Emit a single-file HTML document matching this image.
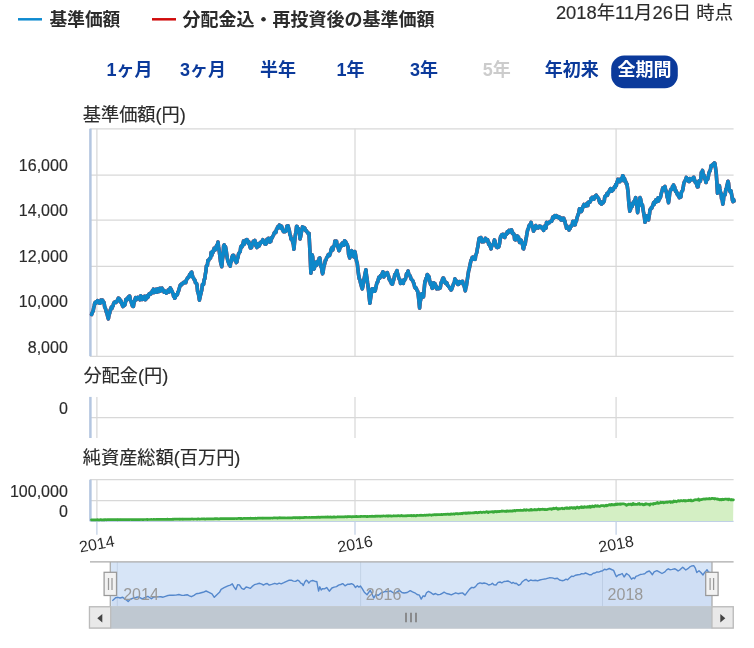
<!DOCTYPE html>
<html lang="ja">
<head>
<meta charset="utf-8">
<title>基準価額チャート</title>
<style>
html,body{margin:0;padding:0;background:#fff;}
body{width:754px;height:648px;overflow:hidden;font-family:"Liberation Sans", "Noto Sans CJK JP", sans-serif;}
svg{display:block;font-family:"Liberation Sans", "Noto Sans CJK JP", sans-serif;}
svg text{stroke-width:0.15px;}
svg text.n{stroke:#2b2b2b;}
</style>
</head>
<body>
<svg width="754" height="648" viewBox="0 0 754 648">
<rect x="0" y="0" width="754" height="648" fill="#ffffff"/>
<path d="M90 128.75 H733.6" stroke="#d8d8d8" stroke-width="1.25" fill="none"/>
<path d="M90 175 H733.6" stroke="#d8d8d8" stroke-width="1.25" fill="none"/>
<path d="M90 220 H733.6" stroke="#d8d8d8" stroke-width="1.25" fill="none"/>
<path d="M90 266.25 H733.6" stroke="#d8d8d8" stroke-width="1.25" fill="none"/>
<path d="M90 311.25 H733.6" stroke="#d8d8d8" stroke-width="1.25" fill="none"/>
<path d="M90 356.25 H733.6" stroke="#d8d8d8" stroke-width="1.25" fill="none"/>
<path d="M96.9 128.7 V356.2" stroke="#d8d8d8" stroke-width="1.25" fill="none"/>
<path d="M96.9 396.9 V438.0" stroke="#d8d8d8" stroke-width="1.25" fill="none"/>
<path d="M96.9 479.7 V521.0" stroke="#d8d8d8" stroke-width="1.25" fill="none"/>
<path d="M96.9 521.3 V534.8" stroke="#b9c9e0" stroke-width="1.1" fill="none"/>
<path d="M355.0 128.7 V356.2" stroke="#d8d8d8" stroke-width="1.25" fill="none"/>
<path d="M355.0 396.9 V438.0" stroke="#d8d8d8" stroke-width="1.25" fill="none"/>
<path d="M355.0 479.7 V521.0" stroke="#d8d8d8" stroke-width="1.25" fill="none"/>
<path d="M355.0 521.3 V534.8" stroke="#b9c9e0" stroke-width="1.1" fill="none"/>
<path d="M616.1 128.7 V356.2" stroke="#d8d8d8" stroke-width="1.25" fill="none"/>
<path d="M616.1 396.9 V438.0" stroke="#d8d8d8" stroke-width="1.25" fill="none"/>
<path d="M616.1 479.7 V521.0" stroke="#d8d8d8" stroke-width="1.25" fill="none"/>
<path d="M616.1 521.3 V534.8" stroke="#b9c9e0" stroke-width="1.1" fill="none"/>
<path d="M90 417.6 H733.6" stroke="#d8d8d8" stroke-width="1.25" fill="none"/>
<path d="M90 479.7 H733.6" stroke="#d8d8d8" stroke-width="1.25" fill="none"/>
<path d="M90 500.6 H733.6" stroke="#d8d8d8" stroke-width="1.25" fill="none"/>
<path d="M90.4 128.7 V356.2" stroke="#b4c6e0" stroke-width="2.5" fill="none"/>
<path d="M90.4 396.9 V438.0" stroke="#b4c6e0" stroke-width="2.5" fill="none"/>
<path d="M90.4 479.7 V521.3" stroke="#b4c6e0" stroke-width="2.5" fill="none"/>
<path d="M90 521.3 H733.6" stroke="#c0d0e6" stroke-width="1.25" fill="none"/>
<path d="M91.4 519.8 L92.0 519.8 L92.6 519.8 L93.2 519.8 L93.8 519.8 L94.4 519.8 L95.0 519.8 L95.6 519.8 L96.2 519.8 L96.8 519.8 L97.4 519.7 L98.0 519.8 L98.6 519.8 L99.2 519.8 L99.8 519.8 L100.4 519.7 L101.0 519.7 L101.6 519.8 L102.2 519.8 L102.8 519.8 L103.4 519.8 L104.0 519.7 L104.6 519.8 L105.2 519.7 L105.8 519.7 L106.3 519.8 L106.9 519.7 L107.5 519.7 L108.1 519.7 L108.7 519.7 L109.3 519.7 L109.9 519.7 L110.5 519.7 L111.1 519.7 L111.7 519.7 L112.3 519.7 L112.9 519.7 L113.5 519.7 L114.1 519.7 L114.7 519.7 L115.3 519.7 L115.9 519.6 L116.5 519.7 L117.1 519.6 L117.7 519.8 L118.3 519.6 L118.9 519.7 L119.5 519.6 L120.1 519.7 L120.7 519.7 L121.3 519.5 L121.9 519.6 L122.5 519.7 L123.1 519.6 L123.7 519.6 L124.3 519.7 L124.9 519.6 L125.5 519.6 L126.1 519.7 L126.7 519.5 L127.3 519.7 L127.9 519.6 L128.5 519.6 L129.1 519.7 L129.7 519.6 L130.3 519.5 L130.9 519.5 L131.5 519.6 L132.1 519.6 L132.7 519.6 L133.3 519.6 L133.9 519.6 L134.5 519.6 L135.1 519.5 L135.6 519.6 L136.2 519.6 L136.8 519.6 L137.4 519.6 L138.0 519.5 L138.6 519.6 L139.2 519.6 L139.8 519.7 L140.4 519.5 L141.0 519.5 L141.6 519.5 L142.2 519.6 L142.8 519.5 L143.4 519.6 L144.0 519.5 L144.6 519.5 L145.2 519.5 L145.8 519.5 L146.4 519.5 L147.0 519.4 L147.6 519.6 L148.2 519.5 L148.8 519.5 L149.4 519.5 L150.0 519.5 L150.6 519.5 L151.2 519.4 L151.8 519.5 L152.4 519.5 L153.0 519.5 L153.6 519.4 L154.2 519.4 L154.8 519.5 L155.4 519.5 L156.0 519.4 L156.6 519.4 L157.2 519.4 L157.8 519.4 L158.4 519.4 L159.0 519.4 L159.6 519.4 L160.2 519.4 L160.8 519.3 L161.4 519.4 L162.0 519.3 L162.6 519.4 L163.2 519.3 L163.8 519.4 L164.4 519.4 L165.0 519.4 L165.6 519.3 L166.2 519.3 L166.8 519.3 L167.4 519.2 L168.0 519.3 L168.6 519.3 L169.2 519.3 L169.8 519.3 L170.4 519.3 L171.0 519.3 L171.6 519.3 L172.2 519.3 L172.8 519.2 L173.4 519.3 L174.0 519.2 L174.6 519.2 L175.2 519.2 L175.8 519.1 L176.4 519.2 L177.0 519.2 L177.6 519.2 L178.2 519.2 L178.8 519.2 L179.4 519.2 L180.0 519.3 L180.6 519.0 L181.2 519.2 L181.8 519.1 L182.4 519.2 L183.0 519.3 L183.6 519.0 L184.2 519.1 L184.8 519.2 L185.4 519.1 L186.0 519.1 L186.6 519.0 L187.2 519.2 L187.8 519.1 L188.4 519.1 L189.0 519.1 L189.6 519.1 L190.2 519.0 L190.8 519.1 L191.4 519.0 L192.0 518.9 L192.6 519.0 L193.2 519.1 L193.8 519.1 L194.4 519.0 L195.0 519.0 L195.6 519.0 L196.2 519.0 L196.8 519.1 L197.4 519.1 L198.0 518.9 L198.6 518.9 L199.2 519.0 L199.8 519.1 L200.4 519.0 L201.0 519.0 L201.6 518.9 L202.2 518.9 L202.8 519.0 L203.4 518.9 L204.0 518.8 L204.6 518.9 L205.2 519.1 L205.8 519.0 L206.4 518.9 L207.0 518.9 L207.6 518.9 L208.2 518.8 L208.8 519.0 L209.4 518.9 L210.0 518.8 L210.6 518.9 L211.2 518.8 L211.8 518.9 L212.4 518.8 L213.0 518.8 L213.6 518.8 L214.2 518.8 L214.8 518.7 L215.4 518.7 L216.0 518.8 L216.6 518.7 L217.2 518.7 L217.8 518.8 L218.4 518.8 L219.0 518.8 L219.6 518.8 L220.2 518.7 L220.8 518.7 L221.4 518.6 L222.0 518.7 L222.6 518.7 L223.2 518.7 L223.8 518.7 L224.4 518.7 L225.0 518.7 L225.6 518.7 L226.2 518.7 L226.8 518.7 L227.4 518.7 L228.0 518.7 L228.6 518.6 L229.2 518.6 L229.8 518.6 L230.4 518.6 L231.0 518.7 L231.6 518.7 L232.2 518.6 L232.8 518.6 L233.4 518.6 L234.0 518.6 L234.7 518.6 L235.3 518.5 L235.9 518.5 L236.5 518.6 L237.1 518.6 L237.7 518.5 L238.3 518.4 L238.9 518.5 L239.5 518.4 L240.1 518.4 L240.7 518.6 L241.3 518.4 L241.9 518.5 L242.5 518.6 L243.1 518.5 L243.7 518.4 L244.3 518.4 L244.9 518.4 L245.5 518.5 L246.1 518.4 L246.7 518.5 L247.3 518.4 L247.9 518.4 L248.5 518.3 L249.1 518.4 L249.7 518.4 L250.3 518.2 L250.9 518.3 L251.5 518.3 L252.1 518.3 L252.7 518.3 L253.3 518.4 L253.9 518.4 L254.5 518.3 L255.1 518.3 L255.7 518.2 L256.3 518.4 L256.9 518.3 L257.5 518.2 L258.1 518.1 L258.7 518.2 L259.3 518.1 L259.9 518.2 L260.5 518.2 L261.1 518.2 L261.7 518.2 L262.3 518.1 L262.9 518.3 L263.5 518.1 L264.1 518.0 L264.7 518.1 L265.3 518.1 L265.9 518.0 L266.5 518.1 L267.1 518.1 L267.7 518.0 L268.3 518.1 L268.9 518.2 L269.5 518.1 L270.1 518.1 L270.7 518.1 L271.3 518.0 L272.0 518.0 L272.6 518.1 L273.2 518.0 L273.8 517.8 L274.4 518.0 L275.0 517.9 L275.6 518.0 L276.2 517.9 L276.8 518.0 L277.4 518.1 L278.0 517.9 L278.6 517.9 L279.2 517.8 L279.8 517.7 L280.4 517.8 L281.0 518.0 L281.6 517.9 L282.2 517.8 L282.8 517.8 L283.4 517.9 L284.0 517.8 L284.6 517.8 L285.2 517.9 L285.8 518.0 L286.4 518.0 L287.0 517.9 L287.6 517.8 L288.2 517.8 L288.8 518.0 L289.4 517.9 L290.0 517.8 L290.6 517.8 L291.2 517.8 L291.8 517.8 L292.4 517.8 L293.0 517.7 L293.6 517.6 L294.2 517.7 L294.8 517.6 L295.4 517.8 L296.0 517.7 L296.6 517.6 L297.2 517.8 L297.8 517.7 L298.4 517.5 L299.0 517.8 L299.6 517.7 L300.2 517.8 L300.8 517.5 L301.4 517.6 L302.0 517.6 L302.6 517.6 L303.2 517.6 L303.8 517.6 L304.4 517.4 L305.0 517.4 L305.6 517.4 L306.1 517.4 L306.7 517.4 L307.3 517.5 L307.9 517.5 L308.5 517.5 L309.1 517.4 L309.7 517.4 L310.3 517.5 L310.9 517.5 L311.5 517.4 L312.1 517.4 L312.7 517.5 L313.3 517.3 L313.9 517.4 L314.5 517.4 L315.1 517.3 L315.7 517.4 L316.3 517.2 L316.9 517.4 L317.5 517.3 L318.1 517.1 L318.7 517.3 L319.3 517.2 L319.9 517.4 L320.5 517.2 L321.1 517.2 L321.7 517.2 L322.3 517.2 L322.9 517.2 L323.5 517.1 L324.1 517.2 L324.7 517.2 L325.3 517.2 L325.9 516.9 L326.5 517.2 L327.1 517.1 L327.7 516.9 L328.3 517.1 L328.9 517.1 L329.5 517.2 L330.1 516.9 L330.7 517.2 L331.3 517.0 L331.9 517.3 L332.5 517.0 L333.1 517.1 L333.7 516.9 L334.3 516.9 L334.9 517.1 L335.5 517.0 L336.1 517.1 L336.7 517.0 L337.3 516.9 L337.9 516.7 L338.4 516.8 L339.0 516.8 L339.6 516.8 L340.2 516.9 L340.8 516.9 L341.4 516.8 L342.0 516.8 L342.6 516.8 L343.2 516.8 L343.8 516.9 L344.4 516.9 L345.0 516.7 L345.6 516.6 L346.2 516.9 L346.8 516.7 L347.4 516.8 L348.0 516.5 L348.6 516.7 L349.2 516.7 L349.8 516.5 L350.4 516.6 L351.0 516.7 L351.6 516.8 L352.2 516.8 L352.8 516.5 L353.4 516.5 L354.0 516.6 L354.6 516.6 L355.2 516.7 L355.8 516.6 L356.4 516.4 L357.0 516.6 L357.6 516.6 L358.2 516.6 L358.8 516.5 L359.4 516.5 L360.0 516.6 L360.6 516.4 L361.2 516.3 L361.8 516.5 L362.4 516.5 L363.0 516.4 L363.6 516.5 L364.2 516.4 L364.8 516.4 L365.4 516.4 L366.0 516.5 L366.6 516.6 L367.2 516.3 L367.8 516.6 L368.4 516.5 L369.1 516.4 L369.7 516.4 L370.3 516.5 L370.9 516.3 L371.5 516.3 L372.1 516.2 L372.7 516.3 L373.3 516.4 L373.9 516.3 L374.5 516.3 L375.1 516.2 L375.7 516.3 L376.3 516.1 L376.9 516.3 L377.5 516.2 L378.1 516.1 L378.7 516.1 L379.3 516.1 L379.9 516.3 L380.5 516.3 L381.1 516.0 L381.7 516.2 L382.3 516.2 L382.9 516.0 L383.5 515.9 L384.1 516.0 L384.7 516.0 L385.3 516.1 L385.9 516.0 L386.5 515.8 L387.1 516.1 L387.7 515.8 L388.3 516.1 L388.9 515.9 L389.5 515.9 L390.1 515.9 L390.7 515.9 L391.3 516.1 L391.9 516.1 L392.5 516.0 L393.1 516.0 L393.7 515.7 L394.3 515.9 L394.9 515.8 L395.5 515.8 L396.1 515.9 L396.7 515.8 L397.3 515.8 L397.9 515.7 L398.6 515.6 L399.2 515.9 L399.8 516.0 L400.4 515.8 L401.0 515.7 L401.6 515.4 L402.2 515.8 L402.8 515.9 L403.4 515.8 L404.0 515.9 L404.6 515.9 L405.2 515.9 L405.8 515.7 L406.4 515.8 L407.0 515.8 L407.6 515.5 L408.2 515.6 L408.8 515.5 L409.4 515.6 L410.0 515.7 L410.6 515.5 L411.2 515.4 L411.8 515.8 L412.4 515.7 L413.0 515.6 L413.6 515.8 L414.2 515.4 L414.8 515.7 L415.4 515.8 L416.0 515.8 L416.6 515.4 L417.2 515.5 L417.8 515.4 L418.4 515.5 L419.0 515.5 L419.6 515.4 L420.2 515.1 L420.8 515.4 L421.4 515.2 L422.0 515.4 L422.6 515.3 L423.2 515.5 L423.8 515.4 L424.4 515.1 L425.0 515.2 L425.6 515.4 L426.2 515.0 L426.8 515.2 L427.4 515.2 L428.0 515.2 L428.6 515.1 L429.2 514.8 L429.8 514.8 L430.4 515.0 L431.0 515.0 L431.6 515.3 L432.2 514.8 L432.8 515.0 L433.4 515.0 L434.0 514.6 L434.6 514.7 L435.2 514.8 L435.8 514.7 L436.4 514.7 L437.0 514.8 L437.6 514.6 L438.2 514.7 L438.8 514.5 L439.4 514.5 L440.0 514.6 L440.6 514.7 L441.2 514.4 L441.8 514.6 L442.4 514.7 L443.0 514.4 L443.6 514.4 L444.2 514.5 L444.8 514.3 L445.4 514.5 L446.0 514.1 L446.6 514.4 L447.2 514.1 L447.8 514.1 L448.5 514.4 L449.1 514.0 L449.7 514.4 L450.3 514.2 L450.9 514.3 L451.5 513.8 L452.1 514.2 L452.7 514.2 L453.3 513.9 L453.9 513.8 L454.5 514.3 L455.1 513.8 L455.7 513.7 L456.3 513.6 L456.9 513.8 L457.5 513.7 L458.1 513.7 L458.7 513.9 L459.3 513.5 L459.9 513.6 L460.5 513.8 L461.1 513.3 L461.7 513.6 L462.3 513.8 L462.9 513.1 L463.5 513.2 L464.2 513.1 L464.8 513.0 L465.4 513.4 L466.0 512.9 L466.6 513.3 L467.2 513.4 L467.8 512.8 L468.4 513.1 L469.0 512.7 L469.6 513.2 L470.2 512.9 L470.8 512.9 L471.4 513.0 L472.0 513.0 L472.6 512.8 L473.2 512.9 L473.8 512.7 L474.4 512.8 L475.0 512.5 L475.6 512.7 L476.2 512.3 L476.8 512.6 L477.4 513.0 L478.0 512.6 L478.6 512.3 L479.2 512.6 L479.9 512.3 L480.5 512.1 L481.1 512.3 L481.7 512.6 L482.3 512.5 L482.9 512.3 L483.5 512.1 L484.1 512.1 L484.7 512.5 L485.3 512.3 L485.9 512.0 L486.5 511.7 L487.1 511.8 L487.7 512.1 L488.3 512.6 L488.9 511.8 L489.5 512.0 L490.1 512.0 L490.7 511.9 L491.3 511.9 L491.9 511.6 L492.5 511.6 L493.1 512.2 L493.7 511.6 L494.3 512.0 L494.9 511.4 L495.5 511.6 L496.1 511.7 L496.7 511.9 L497.3 511.4 L497.9 511.7 L498.5 511.6 L499.1 511.4 L499.6 511.6 L500.2 511.3 L500.8 511.3 L501.4 511.4 L502.0 510.8 L502.6 511.3 L503.2 511.1 L503.8 511.0 L504.4 511.2 L505.0 511.4 L505.6 511.1 L506.2 511.5 L506.8 510.9 L507.4 510.8 L508.0 511.4 L508.6 511.1 L509.2 511.2 L509.8 510.8 L510.4 511.2 L511.0 511.0 L511.6 511.1 L512.2 510.9 L512.8 511.1 L513.4 510.7 L514.0 510.5 L514.6 510.4 L515.2 511.0 L515.8 510.5 L516.4 510.4 L517.0 510.4 L517.6 510.5 L518.2 510.3 L518.8 510.5 L519.4 510.4 L520.0 510.3 L520.6 510.2 L521.2 510.4 L521.8 510.3 L522.4 510.4 L523.0 510.4 L523.5 510.4 L524.1 509.7 L524.7 510.1 L525.3 510.0 L525.9 510.4 L526.5 509.7 L527.1 509.9 L527.7 510.0 L528.3 510.0 L528.9 510.3 L529.5 509.9 L530.1 510.2 L530.7 509.6 L531.3 509.4 L531.9 510.2 L532.5 510.0 L533.1 509.9 L533.7 509.8 L534.3 509.9 L534.9 509.4 L535.5 509.7 L536.1 509.9 L536.7 509.5 L537.3 509.9 L537.9 509.6 L538.5 509.0 L539.1 509.2 L539.7 509.8 L540.3 509.4 L540.9 509.3 L541.5 509.5 L542.1 509.3 L542.7 509.2 L543.3 509.3 L543.8 509.3 L544.4 509.7 L545.0 509.2 L545.6 509.7 L546.2 509.7 L546.8 509.6 L547.4 509.4 L548.0 509.1 L548.6 509.1 L549.2 509.0 L549.8 508.8 L550.4 508.9 L551.0 508.7 L551.6 509.4 L552.2 509.0 L552.8 508.7 L553.4 508.2 L554.0 508.8 L554.6 508.6 L555.2 508.4 L555.8 508.3 L556.4 508.0 L557.0 508.8 L557.6 508.6 L558.2 509.3 L558.8 508.5 L559.4 508.5 L559.9 508.9 L560.5 508.5 L561.1 508.5 L561.7 508.3 L562.3 508.2 L562.9 508.8 L563.5 508.6 L564.1 508.8 L564.7 508.1 L565.3 508.2 L565.9 507.9 L566.5 508.4 L567.1 507.7 L567.7 508.3 L568.3 508.4 L568.9 508.5 L569.5 507.7 L570.1 508.3 L570.7 507.7 L571.3 507.7 L571.9 507.5 L572.5 508.2 L573.1 508.3 L573.7 507.6 L574.3 507.5 L574.9 507.6 L575.4 508.5 L576.0 508.0 L576.6 507.5 L577.2 507.0 L577.8 507.4 L578.4 507.9 L579.0 508.1 L579.6 507.4 L580.2 507.2 L580.8 507.3 L581.4 506.8 L582.0 507.7 L582.6 507.0 L583.2 507.3 L583.8 507.6 L584.4 506.7 L585.0 506.8 L585.6 507.2 L586.2 506.8 L586.8 507.3 L587.4 507.0 L588.0 506.5 L588.7 507.1 L589.3 507.1 L589.9 506.2 L590.5 507.3 L591.1 506.8 L591.7 506.9 L592.3 506.0 L592.9 506.3 L593.5 506.4 L594.1 506.8 L594.7 505.9 L595.3 506.1 L595.9 505.7 L596.5 506.2 L597.1 506.3 L597.7 505.6 L598.3 505.9 L598.9 506.2 L599.5 506.5 L600.2 506.2 L600.8 505.8 L601.4 505.5 L602.0 505.5 L602.6 505.6 L603.2 505.8 L603.8 505.7 L604.4 506.2 L605.0 505.6 L605.6 505.6 L606.2 505.1 L606.8 505.9 L607.4 505.6 L608.1 505.3 L608.7 504.9 L609.3 504.5 L609.9 504.7 L610.5 505.2 L611.1 504.6 L611.7 504.4 L612.3 504.8 L612.9 504.7 L613.6 504.8 L614.2 504.7 L614.8 504.9 L615.4 504.1 L616.0 504.3 L616.6 504.6 L617.2 503.9 L617.8 504.4 L618.4 504.2 L619.0 504.1 L619.6 504.3 L620.2 503.9 L620.8 504.3 L621.4 504.1 L622.0 503.8 L622.6 503.9 L623.1 503.8 L623.7 503.9 L624.3 504.0 L624.9 504.2 L625.4 504.4 L626.0 504.5 L626.6 505.4 L627.2 504.7 L627.8 504.7 L628.4 504.1 L629.0 504.2 L629.6 504.3 L630.2 504.4 L630.8 504.0 L631.4 504.8 L632.0 504.1 L632.6 504.6 L633.2 503.5 L633.8 504.2 L634.4 504.3 L635.0 504.2 L635.6 504.3 L636.2 504.4 L636.8 504.3 L637.5 504.3 L638.1 503.6 L638.7 504.0 L639.3 503.5 L639.9 504.4 L640.5 504.3 L641.1 504.2 L641.8 504.0 L642.4 504.1 L643.0 504.8 L643.6 504.8 L644.2 504.2 L644.8 504.7 L645.4 503.8 L646.0 503.7 L646.7 504.1 L647.3 504.0 L647.9 504.1 L648.5 504.3 L649.1 504.3 L649.7 505.1 L650.3 503.9 L650.9 504.0 L651.5 504.0 L652.1 503.9 L652.7 504.1 L653.3 504.3 L653.9 503.3 L654.6 503.7 L655.2 503.5 L655.8 503.6 L656.4 502.9 L657.0 502.8 L657.6 502.5 L658.2 503.4 L658.8 503.2 L659.4 503.1 L660.0 503.0 L660.6 502.2 L661.2 502.7 L661.8 502.6 L662.4 502.3 L663.0 502.4 L663.6 502.8 L664.2 502.7 L664.8 502.4 L665.4 502.5 L666.0 502.1 L666.6 502.3 L667.2 502.2 L667.8 502.3 L668.4 502.0 L669.0 501.9 L669.6 501.8 L670.2 501.6 L670.8 502.5 L671.4 501.8 L672.0 501.8 L672.6 502.3 L673.2 501.9 L673.8 500.9 L674.4 501.6 L675.0 501.5 L675.6 501.2 L676.2 501.8 L676.8 501.5 L677.4 501.3 L678.0 500.7 L678.6 500.7 L679.2 501.1 L679.8 501.1 L680.5 500.6 L681.1 500.7 L681.7 500.7 L682.3 500.8 L682.9 500.9 L683.5 500.6 L684.1 500.3 L684.7 501.0 L685.3 501.1 L685.9 500.5 L686.5 500.9 L687.1 500.6 L687.7 500.7 L688.3 500.6 L688.9 500.1 L689.5 500.5 L690.1 500.6 L690.8 500.0 L691.4 500.9 L692.0 500.9 L692.6 500.7 L693.2 500.7 L693.8 500.3 L694.4 499.9 L695.0 500.0 L695.6 499.8 L696.2 499.6 L696.8 499.9 L697.4 499.8 L698.0 499.9 L698.5 499.0 L699.1 500.4 L699.7 500.3 L700.3 499.5 L700.9 499.7 L701.5 499.6 L702.1 499.4 L702.7 499.2 L703.3 499.2 L703.9 498.9 L704.5 499.2 L705.0 499.1 L705.6 499.1 L706.2 498.7 L706.8 498.9 L707.4 498.9 L708.0 498.8 L708.6 499.0 L709.2 498.4 L709.8 498.8 L710.4 499.0 L711.0 498.8 L711.6 498.4 L712.2 498.4 L712.8 498.4 L713.4 498.7 L714.0 498.4 L714.6 499.0 L715.1 498.6 L715.7 498.6 L716.3 499.0 L716.9 499.1 L717.4 498.9 L718.0 499.3 L718.5 499.2 L719.1 499.5 L719.6 499.8 L720.2 499.3 L720.7 499.8 L721.3 499.4 L721.9 499.8 L722.5 499.2 L723.1 499.6 L723.6 499.6 L724.2 499.4 L724.8 499.0 L725.4 499.2 L726.0 499.2 L726.6 499.2 L727.2 499.4 L727.9 499.1 L728.5 499.8 L729.1 499.0 L729.7 499.5 L730.3 499.6 L730.9 500.0 L731.5 499.5 L732.2 500.0 L732.8 499.7 L733.4 499.9 L733.1 521 L91.4 521 Z" fill="#d4efc4" stroke="none"/>
<path d="M91.4 519.8 L92.0 519.8 L92.6 519.8 L93.2 519.8 L93.8 519.8 L94.4 519.8 L95.0 519.8 L95.6 519.8 L96.2 519.8 L96.8 519.8 L97.4 519.7 L98.0 519.8 L98.6 519.8 L99.2 519.8 L99.8 519.8 L100.4 519.7 L101.0 519.7 L101.6 519.8 L102.2 519.8 L102.8 519.8 L103.4 519.8 L104.0 519.7 L104.6 519.8 L105.2 519.7 L105.8 519.7 L106.3 519.8 L106.9 519.7 L107.5 519.7 L108.1 519.7 L108.7 519.7 L109.3 519.7 L109.9 519.7 L110.5 519.7 L111.1 519.7 L111.7 519.7 L112.3 519.7 L112.9 519.7 L113.5 519.7 L114.1 519.7 L114.7 519.7 L115.3 519.7 L115.9 519.6 L116.5 519.7 L117.1 519.6 L117.7 519.8 L118.3 519.6 L118.9 519.7 L119.5 519.6 L120.1 519.7 L120.7 519.7 L121.3 519.5 L121.9 519.6 L122.5 519.7 L123.1 519.6 L123.7 519.6 L124.3 519.7 L124.9 519.6 L125.5 519.6 L126.1 519.7 L126.7 519.5 L127.3 519.7 L127.9 519.6 L128.5 519.6 L129.1 519.7 L129.7 519.6 L130.3 519.5 L130.9 519.5 L131.5 519.6 L132.1 519.6 L132.7 519.6 L133.3 519.6 L133.9 519.6 L134.5 519.6 L135.1 519.5 L135.6 519.6 L136.2 519.6 L136.8 519.6 L137.4 519.6 L138.0 519.5 L138.6 519.6 L139.2 519.6 L139.8 519.7 L140.4 519.5 L141.0 519.5 L141.6 519.5 L142.2 519.6 L142.8 519.5 L143.4 519.6 L144.0 519.5 L144.6 519.5 L145.2 519.5 L145.8 519.5 L146.4 519.5 L147.0 519.4 L147.6 519.6 L148.2 519.5 L148.8 519.5 L149.4 519.5 L150.0 519.5 L150.6 519.5 L151.2 519.4 L151.8 519.5 L152.4 519.5 L153.0 519.5 L153.6 519.4 L154.2 519.4 L154.8 519.5 L155.4 519.5 L156.0 519.4 L156.6 519.4 L157.2 519.4 L157.8 519.4 L158.4 519.4 L159.0 519.4 L159.6 519.4 L160.2 519.4 L160.8 519.3 L161.4 519.4 L162.0 519.3 L162.6 519.4 L163.2 519.3 L163.8 519.4 L164.4 519.4 L165.0 519.4 L165.6 519.3 L166.2 519.3 L166.8 519.3 L167.4 519.2 L168.0 519.3 L168.6 519.3 L169.2 519.3 L169.8 519.3 L170.4 519.3 L171.0 519.3 L171.6 519.3 L172.2 519.3 L172.8 519.2 L173.4 519.3 L174.0 519.2 L174.6 519.2 L175.2 519.2 L175.8 519.1 L176.4 519.2 L177.0 519.2 L177.6 519.2 L178.2 519.2 L178.8 519.2 L179.4 519.2 L180.0 519.3 L180.6 519.0 L181.2 519.2 L181.8 519.1 L182.4 519.2 L183.0 519.3 L183.6 519.0 L184.2 519.1 L184.8 519.2 L185.4 519.1 L186.0 519.1 L186.6 519.0 L187.2 519.2 L187.8 519.1 L188.4 519.1 L189.0 519.1 L189.6 519.1 L190.2 519.0 L190.8 519.1 L191.4 519.0 L192.0 518.9 L192.6 519.0 L193.2 519.1 L193.8 519.1 L194.4 519.0 L195.0 519.0 L195.6 519.0 L196.2 519.0 L196.8 519.1 L197.4 519.1 L198.0 518.9 L198.6 518.9 L199.2 519.0 L199.8 519.1 L200.4 519.0 L201.0 519.0 L201.6 518.9 L202.2 518.9 L202.8 519.0 L203.4 518.9 L204.0 518.8 L204.6 518.9 L205.2 519.1 L205.8 519.0 L206.4 518.9 L207.0 518.9 L207.6 518.9 L208.2 518.8 L208.8 519.0 L209.4 518.9 L210.0 518.8 L210.6 518.9 L211.2 518.8 L211.8 518.9 L212.4 518.8 L213.0 518.8 L213.6 518.8 L214.2 518.8 L214.8 518.7 L215.4 518.7 L216.0 518.8 L216.6 518.7 L217.2 518.7 L217.8 518.8 L218.4 518.8 L219.0 518.8 L219.6 518.8 L220.2 518.7 L220.8 518.7 L221.4 518.6 L222.0 518.7 L222.6 518.7 L223.2 518.7 L223.8 518.7 L224.4 518.7 L225.0 518.7 L225.6 518.7 L226.2 518.7 L226.8 518.7 L227.4 518.7 L228.0 518.7 L228.6 518.6 L229.2 518.6 L229.8 518.6 L230.4 518.6 L231.0 518.7 L231.6 518.7 L232.2 518.6 L232.8 518.6 L233.4 518.6 L234.0 518.6 L234.7 518.6 L235.3 518.5 L235.9 518.5 L236.5 518.6 L237.1 518.6 L237.7 518.5 L238.3 518.4 L238.9 518.5 L239.5 518.4 L240.1 518.4 L240.7 518.6 L241.3 518.4 L241.9 518.5 L242.5 518.6 L243.1 518.5 L243.7 518.4 L244.3 518.4 L244.9 518.4 L245.5 518.5 L246.1 518.4 L246.7 518.5 L247.3 518.4 L247.9 518.4 L248.5 518.3 L249.1 518.4 L249.7 518.4 L250.3 518.2 L250.9 518.3 L251.5 518.3 L252.1 518.3 L252.7 518.3 L253.3 518.4 L253.9 518.4 L254.5 518.3 L255.1 518.3 L255.7 518.2 L256.3 518.4 L256.9 518.3 L257.5 518.2 L258.1 518.1 L258.7 518.2 L259.3 518.1 L259.9 518.2 L260.5 518.2 L261.1 518.2 L261.7 518.2 L262.3 518.1 L262.9 518.3 L263.5 518.1 L264.1 518.0 L264.7 518.1 L265.3 518.1 L265.9 518.0 L266.5 518.1 L267.1 518.1 L267.7 518.0 L268.3 518.1 L268.9 518.2 L269.5 518.1 L270.1 518.1 L270.7 518.1 L271.3 518.0 L272.0 518.0 L272.6 518.1 L273.2 518.0 L273.8 517.8 L274.4 518.0 L275.0 517.9 L275.6 518.0 L276.2 517.9 L276.8 518.0 L277.4 518.1 L278.0 517.9 L278.6 517.9 L279.2 517.8 L279.8 517.7 L280.4 517.8 L281.0 518.0 L281.6 517.9 L282.2 517.8 L282.8 517.8 L283.4 517.9 L284.0 517.8 L284.6 517.8 L285.2 517.9 L285.8 518.0 L286.4 518.0 L287.0 517.9 L287.6 517.8 L288.2 517.8 L288.8 518.0 L289.4 517.9 L290.0 517.8 L290.6 517.8 L291.2 517.8 L291.8 517.8 L292.4 517.8 L293.0 517.7 L293.6 517.6 L294.2 517.7 L294.8 517.6 L295.4 517.8 L296.0 517.7 L296.6 517.6 L297.2 517.8 L297.8 517.7 L298.4 517.5 L299.0 517.8 L299.6 517.7 L300.2 517.8 L300.8 517.5 L301.4 517.6 L302.0 517.6 L302.6 517.6 L303.2 517.6 L303.8 517.6 L304.4 517.4 L305.0 517.4 L305.6 517.4 L306.1 517.4 L306.7 517.4 L307.3 517.5 L307.9 517.5 L308.5 517.5 L309.1 517.4 L309.7 517.4 L310.3 517.5 L310.9 517.5 L311.5 517.4 L312.1 517.4 L312.7 517.5 L313.3 517.3 L313.9 517.4 L314.5 517.4 L315.1 517.3 L315.7 517.4 L316.3 517.2 L316.9 517.4 L317.5 517.3 L318.1 517.1 L318.7 517.3 L319.3 517.2 L319.9 517.4 L320.5 517.2 L321.1 517.2 L321.7 517.2 L322.3 517.2 L322.9 517.2 L323.5 517.1 L324.1 517.2 L324.7 517.2 L325.3 517.2 L325.9 516.9 L326.5 517.2 L327.1 517.1 L327.7 516.9 L328.3 517.1 L328.9 517.1 L329.5 517.2 L330.1 516.9 L330.7 517.2 L331.3 517.0 L331.9 517.3 L332.5 517.0 L333.1 517.1 L333.7 516.9 L334.3 516.9 L334.9 517.1 L335.5 517.0 L336.1 517.1 L336.7 517.0 L337.3 516.9 L337.9 516.7 L338.4 516.8 L339.0 516.8 L339.6 516.8 L340.2 516.9 L340.8 516.9 L341.4 516.8 L342.0 516.8 L342.6 516.8 L343.2 516.8 L343.8 516.9 L344.4 516.9 L345.0 516.7 L345.6 516.6 L346.2 516.9 L346.8 516.7 L347.4 516.8 L348.0 516.5 L348.6 516.7 L349.2 516.7 L349.8 516.5 L350.4 516.6 L351.0 516.7 L351.6 516.8 L352.2 516.8 L352.8 516.5 L353.4 516.5 L354.0 516.6 L354.6 516.6 L355.2 516.7 L355.8 516.6 L356.4 516.4 L357.0 516.6 L357.6 516.6 L358.2 516.6 L358.8 516.5 L359.4 516.5 L360.0 516.6 L360.6 516.4 L361.2 516.3 L361.8 516.5 L362.4 516.5 L363.0 516.4 L363.6 516.5 L364.2 516.4 L364.8 516.4 L365.4 516.4 L366.0 516.5 L366.6 516.6 L367.2 516.3 L367.8 516.6 L368.4 516.5 L369.1 516.4 L369.7 516.4 L370.3 516.5 L370.9 516.3 L371.5 516.3 L372.1 516.2 L372.7 516.3 L373.3 516.4 L373.9 516.3 L374.5 516.3 L375.1 516.2 L375.7 516.3 L376.3 516.1 L376.9 516.3 L377.5 516.2 L378.1 516.1 L378.7 516.1 L379.3 516.1 L379.9 516.3 L380.5 516.3 L381.1 516.0 L381.7 516.2 L382.3 516.2 L382.9 516.0 L383.5 515.9 L384.1 516.0 L384.7 516.0 L385.3 516.1 L385.9 516.0 L386.5 515.8 L387.1 516.1 L387.7 515.8 L388.3 516.1 L388.9 515.9 L389.5 515.9 L390.1 515.9 L390.7 515.9 L391.3 516.1 L391.9 516.1 L392.5 516.0 L393.1 516.0 L393.7 515.7 L394.3 515.9 L394.9 515.8 L395.5 515.8 L396.1 515.9 L396.7 515.8 L397.3 515.8 L397.9 515.7 L398.6 515.6 L399.2 515.9 L399.8 516.0 L400.4 515.8 L401.0 515.7 L401.6 515.4 L402.2 515.8 L402.8 515.9 L403.4 515.8 L404.0 515.9 L404.6 515.9 L405.2 515.9 L405.8 515.7 L406.4 515.8 L407.0 515.8 L407.6 515.5 L408.2 515.6 L408.8 515.5 L409.4 515.6 L410.0 515.7 L410.6 515.5 L411.2 515.4 L411.8 515.8 L412.4 515.7 L413.0 515.6 L413.6 515.8 L414.2 515.4 L414.8 515.7 L415.4 515.8 L416.0 515.8 L416.6 515.4 L417.2 515.5 L417.8 515.4 L418.4 515.5 L419.0 515.5 L419.6 515.4 L420.2 515.1 L420.8 515.4 L421.4 515.2 L422.0 515.4 L422.6 515.3 L423.2 515.5 L423.8 515.4 L424.4 515.1 L425.0 515.2 L425.6 515.4 L426.2 515.0 L426.8 515.2 L427.4 515.2 L428.0 515.2 L428.6 515.1 L429.2 514.8 L429.8 514.8 L430.4 515.0 L431.0 515.0 L431.6 515.3 L432.2 514.8 L432.8 515.0 L433.4 515.0 L434.0 514.6 L434.6 514.7 L435.2 514.8 L435.8 514.7 L436.4 514.7 L437.0 514.8 L437.6 514.6 L438.2 514.7 L438.8 514.5 L439.4 514.5 L440.0 514.6 L440.6 514.7 L441.2 514.4 L441.8 514.6 L442.4 514.7 L443.0 514.4 L443.6 514.4 L444.2 514.5 L444.8 514.3 L445.4 514.5 L446.0 514.1 L446.6 514.4 L447.2 514.1 L447.8 514.1 L448.5 514.4 L449.1 514.0 L449.7 514.4 L450.3 514.2 L450.9 514.3 L451.5 513.8 L452.1 514.2 L452.7 514.2 L453.3 513.9 L453.9 513.8 L454.5 514.3 L455.1 513.8 L455.7 513.7 L456.3 513.6 L456.9 513.8 L457.5 513.7 L458.1 513.7 L458.7 513.9 L459.3 513.5 L459.9 513.6 L460.5 513.8 L461.1 513.3 L461.7 513.6 L462.3 513.8 L462.9 513.1 L463.5 513.2 L464.2 513.1 L464.8 513.0 L465.4 513.4 L466.0 512.9 L466.6 513.3 L467.2 513.4 L467.8 512.8 L468.4 513.1 L469.0 512.7 L469.6 513.2 L470.2 512.9 L470.8 512.9 L471.4 513.0 L472.0 513.0 L472.6 512.8 L473.2 512.9 L473.8 512.7 L474.4 512.8 L475.0 512.5 L475.6 512.7 L476.2 512.3 L476.8 512.6 L477.4 513.0 L478.0 512.6 L478.6 512.3 L479.2 512.6 L479.9 512.3 L480.5 512.1 L481.1 512.3 L481.7 512.6 L482.3 512.5 L482.9 512.3 L483.5 512.1 L484.1 512.1 L484.7 512.5 L485.3 512.3 L485.9 512.0 L486.5 511.7 L487.1 511.8 L487.7 512.1 L488.3 512.6 L488.9 511.8 L489.5 512.0 L490.1 512.0 L490.7 511.9 L491.3 511.9 L491.9 511.6 L492.5 511.6 L493.1 512.2 L493.7 511.6 L494.3 512.0 L494.9 511.4 L495.5 511.6 L496.1 511.7 L496.7 511.9 L497.3 511.4 L497.9 511.7 L498.5 511.6 L499.1 511.4 L499.6 511.6 L500.2 511.3 L500.8 511.3 L501.4 511.4 L502.0 510.8 L502.6 511.3 L503.2 511.1 L503.8 511.0 L504.4 511.2 L505.0 511.4 L505.6 511.1 L506.2 511.5 L506.8 510.9 L507.4 510.8 L508.0 511.4 L508.6 511.1 L509.2 511.2 L509.8 510.8 L510.4 511.2 L511.0 511.0 L511.6 511.1 L512.2 510.9 L512.8 511.1 L513.4 510.7 L514.0 510.5 L514.6 510.4 L515.2 511.0 L515.8 510.5 L516.4 510.4 L517.0 510.4 L517.6 510.5 L518.2 510.3 L518.8 510.5 L519.4 510.4 L520.0 510.3 L520.6 510.2 L521.2 510.4 L521.8 510.3 L522.4 510.4 L523.0 510.4 L523.5 510.4 L524.1 509.7 L524.7 510.1 L525.3 510.0 L525.9 510.4 L526.5 509.7 L527.1 509.9 L527.7 510.0 L528.3 510.0 L528.9 510.3 L529.5 509.9 L530.1 510.2 L530.7 509.6 L531.3 509.4 L531.9 510.2 L532.5 510.0 L533.1 509.9 L533.7 509.8 L534.3 509.9 L534.9 509.4 L535.5 509.7 L536.1 509.9 L536.7 509.5 L537.3 509.9 L537.9 509.6 L538.5 509.0 L539.1 509.2 L539.7 509.8 L540.3 509.4 L540.9 509.3 L541.5 509.5 L542.1 509.3 L542.7 509.2 L543.3 509.3 L543.8 509.3 L544.4 509.7 L545.0 509.2 L545.6 509.7 L546.2 509.7 L546.8 509.6 L547.4 509.4 L548.0 509.1 L548.6 509.1 L549.2 509.0 L549.8 508.8 L550.4 508.9 L551.0 508.7 L551.6 509.4 L552.2 509.0 L552.8 508.7 L553.4 508.2 L554.0 508.8 L554.6 508.6 L555.2 508.4 L555.8 508.3 L556.4 508.0 L557.0 508.8 L557.6 508.6 L558.2 509.3 L558.8 508.5 L559.4 508.5 L559.9 508.9 L560.5 508.5 L561.1 508.5 L561.7 508.3 L562.3 508.2 L562.9 508.8 L563.5 508.6 L564.1 508.8 L564.7 508.1 L565.3 508.2 L565.9 507.9 L566.5 508.4 L567.1 507.7 L567.7 508.3 L568.3 508.4 L568.9 508.5 L569.5 507.7 L570.1 508.3 L570.7 507.7 L571.3 507.7 L571.9 507.5 L572.5 508.2 L573.1 508.3 L573.7 507.6 L574.3 507.5 L574.9 507.6 L575.4 508.5 L576.0 508.0 L576.6 507.5 L577.2 507.0 L577.8 507.4 L578.4 507.9 L579.0 508.1 L579.6 507.4 L580.2 507.2 L580.8 507.3 L581.4 506.8 L582.0 507.7 L582.6 507.0 L583.2 507.3 L583.8 507.6 L584.4 506.7 L585.0 506.8 L585.6 507.2 L586.2 506.8 L586.8 507.3 L587.4 507.0 L588.0 506.5 L588.7 507.1 L589.3 507.1 L589.9 506.2 L590.5 507.3 L591.1 506.8 L591.7 506.9 L592.3 506.0 L592.9 506.3 L593.5 506.4 L594.1 506.8 L594.7 505.9 L595.3 506.1 L595.9 505.7 L596.5 506.2 L597.1 506.3 L597.7 505.6 L598.3 505.9 L598.9 506.2 L599.5 506.5 L600.2 506.2 L600.8 505.8 L601.4 505.5 L602.0 505.5 L602.6 505.6 L603.2 505.8 L603.8 505.7 L604.4 506.2 L605.0 505.6 L605.6 505.6 L606.2 505.1 L606.8 505.9 L607.4 505.6 L608.1 505.3 L608.7 504.9 L609.3 504.5 L609.9 504.7 L610.5 505.2 L611.1 504.6 L611.7 504.4 L612.3 504.8 L612.9 504.7 L613.6 504.8 L614.2 504.7 L614.8 504.9 L615.4 504.1 L616.0 504.3 L616.6 504.6 L617.2 503.9 L617.8 504.4 L618.4 504.2 L619.0 504.1 L619.6 504.3 L620.2 503.9 L620.8 504.3 L621.4 504.1 L622.0 503.8 L622.6 503.9 L623.1 503.8 L623.7 503.9 L624.3 504.0 L624.9 504.2 L625.4 504.4 L626.0 504.5 L626.6 505.4 L627.2 504.7 L627.8 504.7 L628.4 504.1 L629.0 504.2 L629.6 504.3 L630.2 504.4 L630.8 504.0 L631.4 504.8 L632.0 504.1 L632.6 504.6 L633.2 503.5 L633.8 504.2 L634.4 504.3 L635.0 504.2 L635.6 504.3 L636.2 504.4 L636.8 504.3 L637.5 504.3 L638.1 503.6 L638.7 504.0 L639.3 503.5 L639.9 504.4 L640.5 504.3 L641.1 504.2 L641.8 504.0 L642.4 504.1 L643.0 504.8 L643.6 504.8 L644.2 504.2 L644.8 504.7 L645.4 503.8 L646.0 503.7 L646.7 504.1 L647.3 504.0 L647.9 504.1 L648.5 504.3 L649.1 504.3 L649.7 505.1 L650.3 503.9 L650.9 504.0 L651.5 504.0 L652.1 503.9 L652.7 504.1 L653.3 504.3 L653.9 503.3 L654.6 503.7 L655.2 503.5 L655.8 503.6 L656.4 502.9 L657.0 502.8 L657.6 502.5 L658.2 503.4 L658.8 503.2 L659.4 503.1 L660.0 503.0 L660.6 502.2 L661.2 502.7 L661.8 502.6 L662.4 502.3 L663.0 502.4 L663.6 502.8 L664.2 502.7 L664.8 502.4 L665.4 502.5 L666.0 502.1 L666.6 502.3 L667.2 502.2 L667.8 502.3 L668.4 502.0 L669.0 501.9 L669.6 501.8 L670.2 501.6 L670.8 502.5 L671.4 501.8 L672.0 501.8 L672.6 502.3 L673.2 501.9 L673.8 500.9 L674.4 501.6 L675.0 501.5 L675.6 501.2 L676.2 501.8 L676.8 501.5 L677.4 501.3 L678.0 500.7 L678.6 500.7 L679.2 501.1 L679.8 501.1 L680.5 500.6 L681.1 500.7 L681.7 500.7 L682.3 500.8 L682.9 500.9 L683.5 500.6 L684.1 500.3 L684.7 501.0 L685.3 501.1 L685.9 500.5 L686.5 500.9 L687.1 500.6 L687.7 500.7 L688.3 500.6 L688.9 500.1 L689.5 500.5 L690.1 500.6 L690.8 500.0 L691.4 500.9 L692.0 500.9 L692.6 500.7 L693.2 500.7 L693.8 500.3 L694.4 499.9 L695.0 500.0 L695.6 499.8 L696.2 499.6 L696.8 499.9 L697.4 499.8 L698.0 499.9 L698.5 499.0 L699.1 500.4 L699.7 500.3 L700.3 499.5 L700.9 499.7 L701.5 499.6 L702.1 499.4 L702.7 499.2 L703.3 499.2 L703.9 498.9 L704.5 499.2 L705.0 499.1 L705.6 499.1 L706.2 498.7 L706.8 498.9 L707.4 498.9 L708.0 498.8 L708.6 499.0 L709.2 498.4 L709.8 498.8 L710.4 499.0 L711.0 498.8 L711.6 498.4 L712.2 498.4 L712.8 498.4 L713.4 498.7 L714.0 498.4 L714.6 499.0 L715.1 498.6 L715.7 498.6 L716.3 499.0 L716.9 499.1 L717.4 498.9 L718.0 499.3 L718.5 499.2 L719.1 499.5 L719.6 499.8 L720.2 499.3 L720.7 499.8 L721.3 499.4 L721.9 499.8 L722.5 499.2 L723.1 499.6 L723.6 499.6 L724.2 499.4 L724.8 499.0 L725.4 499.2 L726.0 499.2 L726.6 499.2 L727.2 499.4 L727.9 499.1 L728.5 499.8 L729.1 499.0 L729.7 499.5 L730.3 499.6 L730.9 500.0 L731.5 499.5 L732.2 500.0 L732.8 499.7 L733.4 499.9" fill="none" stroke="#3aaa3a" stroke-width="2.7" stroke-linejoin="round" stroke-linecap="round"/>
<path d="M91.6 314.5 L92.2 312.9 L92.7 311.9 L93.2 310.6 L93.7 307.9 L94.2 305.9 L94.7 303.3 L95.2 302.5 L95.8 301.8 L96.3 302.8 L96.9 301.6 L97.5 300.6 L98.1 302.5 L98.7 302.2 L99.3 303.1 L99.9 303.3 L100.4 302.9 L101.0 300.1 L101.5 302.4 L102.1 301.3 L102.6 300.1 L103.1 302.5 L103.7 301.8 L104.2 303.5 L104.7 307.3 L105.2 307.7 L105.8 309.6 L106.3 311.9 L106.8 312.9 L107.3 314.8 L107.9 317.4 L108.4 318.8 L109.0 315.0 L109.7 313.1 L110.3 309.7 L110.8 309.2 L111.4 307.0 L111.9 308.7 L112.4 306.4 L113.0 306.2 L113.5 303.8 L114.0 302.7 L114.5 302.1 L115.0 302.1 L115.6 301.9 L116.1 302.4 L116.6 301.2 L117.2 300.8 L117.8 299.3 L118.4 298.1 L119.0 298.5 L119.6 298.9 L120.2 301.9 L120.8 300.6 L121.4 302.5 L121.9 304.1 L122.5 305.7 L123.0 306.5 L123.6 303.8 L124.2 304.6 L124.8 305.0 L125.4 302.5 L125.9 299.3 L126.5 300.3 L127.0 299.7 L127.5 298.0 L128.0 298.6 L128.6 297.0 L129.1 296.2 L129.7 296.1 L130.4 300.3 L131.0 300.9 L131.6 303.5 L132.3 305.7 L132.9 306.5 L133.4 306.4 L133.9 303.3 L134.5 301.2 L135.0 299.3 L135.6 297.7 L136.1 299.8 L136.7 298.3 L137.2 298.3 L137.8 297.3 L138.3 297.5 L138.9 298.5 L139.5 297.8 L140.0 299.8 L140.6 295.8 L141.2 296.4 L141.8 298.2 L142.3 299.5 L142.9 297.7 L143.5 298.9 L144.1 296.5 L144.7 296.3 L145.3 299.7 L145.9 299.3 L146.4 297.2 L147.0 295.9 L147.6 297.5 L148.2 296.8 L148.7 294.8 L149.3 293.8 L149.8 293.5 L150.4 293.2 L150.9 294.0 L151.4 292.4 L152.0 291.7 L152.5 290.6 L153.0 291.4 L153.5 289.2 L154.1 292.6 L154.6 292.4 L155.1 292.1 L155.6 291.7 L156.1 289.2 L156.7 290.6 L157.2 292.1 L157.7 288.9 L158.3 290.6 L158.8 290.6 L159.3 291.4 L159.9 288.3 L160.4 291.3 L160.9 289.6 L161.5 288.4 L162.0 288.2 L162.5 289.2 L163.1 290.3 L163.6 290.3 L164.1 292.2 L164.7 290.8 L165.2 292.2 L165.8 291.6 L166.4 293.1 L167.0 291.9 L167.6 291.7 L168.1 290.2 L168.7 291.9 L169.2 292.0 L169.7 289.4 L170.3 287.9 L170.8 289.0 L171.4 290.0 L171.9 291.2 L172.5 292.3 L173.1 293.8 L173.6 296.4 L174.1 294.6 L174.7 298.2 L175.2 297.7 L175.7 295.1 L176.3 294.6 L176.8 295.1 L177.4 294.6 L177.9 292.2 L178.5 291.4 L179.1 289.0 L179.7 287.0 L180.3 285.0 L180.8 284.8 L181.4 284.9 L181.9 283.6 L182.4 283.7 L183.0 283.7 L183.5 282.6 L184.1 282.0 L184.6 282.3 L185.2 281.5 L185.8 282.6 L186.4 280.1 L186.9 278.7 L187.5 278.6 L188.0 277.3 L188.6 276.8 L189.1 276.9 L189.6 274.5 L190.2 274.5 L190.7 273.1 L191.2 276.1 L191.7 272.0 L192.2 274.6 L192.8 277.0 L193.3 278.1 L193.8 278.6 L194.3 279.9 L194.9 280.2 L195.4 282.6 L195.9 283.2 L196.5 283.3 L197.0 285.0 L197.6 291.6 L198.2 293.0 L198.8 295.7 L199.4 300.1 L200.0 297.4 L200.6 294.7 L201.2 292.3 L201.8 289.8 L202.4 284.4 L203.0 284.8 L203.6 284.3 L204.2 279.6 L204.8 278.7 L205.3 274.4 L205.9 271.3 L206.4 265.9 L206.9 265.7 L207.4 265.2 L207.9 260.4 L208.5 260.8 L209.0 259.6 L209.5 258.8 L210.1 258.4 L210.6 257.8 L211.2 252.3 L211.8 255.5 L212.4 251.4 L212.9 252.7 L213.5 250.8 L214.1 248.3 L214.7 249.4 L215.3 249.8 L215.9 247.6 L216.4 246.1 L216.9 245.1 L217.5 244.4 L218.0 242.1 L218.6 247.0 L219.3 251.5 L219.9 256.4 L220.5 261.6 L221.2 264.5 L221.8 266.7 L222.4 259.5 L223.0 256.1 L223.6 246.0 L224.2 244.9 L224.9 247.6 L225.5 246.8 L226.1 250.1 L226.7 254.2 L227.3 258.4 L227.9 261.2 L228.5 262.7 L229.1 264.4 L229.6 263.2 L230.2 266.2 L230.8 261.8 L231.4 261.6 L232.0 257.1 L232.6 255.6 L233.2 255.2 L233.8 255.5 L234.4 259.5 L235.0 258.8 L235.6 260.7 L236.3 262.6 L236.9 262.0 L237.4 258.7 L237.9 257.6 L238.5 254.1 L239.0 253.2 L239.6 252.3 L240.2 251.4 L240.8 246.8 L241.4 246.0 L241.9 247.1 L242.5 245.8 L243.0 243.8 L243.5 241.1 L244.1 244.4 L244.6 242.1 L245.2 241.4 L245.8 240.2 L246.4 240.8 L247.0 239.7 L247.6 241.1 L248.2 243.4 L248.7 241.5 L249.3 243.6 L249.8 246.2 L250.4 248.0 L250.9 247.6 L251.5 247.7 L252.2 244.3 L252.8 242.9 L253.3 241.4 L253.9 242.9 L254.4 241.2 L254.9 240.5 L255.4 242.4 L255.9 245.7 L256.5 245.5 L257.0 247.6 L257.5 244.3 L258.1 245.9 L258.6 243.5 L259.2 246.0 L259.7 244.4 L260.2 244.0 L260.8 242.1 L261.3 242.0 L261.8 242.2 L262.4 240.6 L262.9 239.7 L263.5 242.2 L264.1 241.6 L264.7 243.8 L265.3 243.6 L265.9 244.1 L266.5 243.1 L267.0 239.3 L267.6 238.9 L268.1 240.7 L268.6 238.3 L269.2 240.1 L269.7 242.1 L270.2 238.9 L270.8 241.4 L271.3 237.8 L271.9 238.2 L272.4 237.3 L273.0 235.9 L273.6 234.9 L274.2 233.0 L274.8 232.5 L275.4 231.6 L276.0 232.3 L276.5 229.2 L277.1 228.6 L277.7 226.9 L278.2 227.9 L278.8 226.4 L279.3 225.0 L279.9 225.6 L280.4 226.1 L281.0 228.3 L281.6 226.2 L282.2 228.4 L282.8 230.1 L283.4 231.7 L284.0 231.8 L284.6 231.3 L285.2 231.7 L285.8 231.2 L286.4 229.1 L286.9 226.1 L287.5 226.1 L288.1 225.9 L288.8 228.6 L289.4 230.9 L289.9 234.6 L290.5 235.6 L291.0 238.9 L291.6 238.7 L292.3 240.5 L292.8 242.5 L293.4 244.5 L293.9 249.2 L294.4 244.0 L295.0 237.8 L295.5 234.1 L296.0 232.0 L296.6 226.3 L297.1 226.5 L297.6 228.1 L298.2 228.2 L298.7 230.1 L299.4 232.3 L300.0 238.9 L300.6 236.8 L301.3 232.7 L301.9 230.1 L302.5 226.9 L303.0 227.9 L303.6 228.6 L304.2 227.7 L304.8 228.0 L305.4 230.2 L306.0 231.0 L306.6 230.9 L307.2 232.3 L307.8 232.5 L308.4 234.2 L309.0 233.3 L309.6 244.8 L310.1 254.8 L310.9 273.1 L311.5 264.5 L312.2 254.8 L312.7 257.2 L313.3 265.4 L313.8 269.1 L314.3 268.5 L314.9 264.5 L315.4 262.7 L315.9 262.4 L316.4 265.5 L316.9 261.5 L317.4 263.8 L318.0 262.9 L318.6 263.6 L319.2 258.3 L319.8 257.9 L320.4 261.9 L320.9 266.4 L321.5 267.3 L322.0 271.3 L322.6 273.8 L323.1 272.1 L323.7 267.3 L324.2 265.5 L324.8 263.3 L325.3 260.2 L325.9 260.2 L326.5 258.2 L327.1 257.1 L327.7 256.3 L328.3 254.5 L328.9 254.7 L329.5 255.5 L330.1 253.9 L330.6 252.4 L331.1 249.7 L331.7 248.1 L332.2 247.5 L332.8 250.0 L333.3 247.6 L333.8 246.4 L334.4 245.1 L334.9 241.1 L335.4 243.8 L336.0 242.7 L336.5 241.1 L337.1 245.4 L337.7 246.4 L338.3 248.2 L338.9 250.7 L339.5 249.7 L340.1 245.3 L340.7 247.1 L341.3 244.3 L341.8 244.5 L342.3 243.1 L342.8 245.2 L343.3 243.5 L343.9 245.1 L344.5 240.9 L345.0 241.2 L345.6 241.5 L346.1 242.9 L346.6 243.9 L347.1 244.3 L347.6 245.9 L348.1 247.8 L348.6 254.3 L349.2 256.1 L349.7 257.9 L350.3 254.1 L351.0 251.6 L351.6 250.7 L352.1 254.5 L352.7 255.6 L353.2 256.3 L353.7 256.8 L354.3 254.0 L354.8 251.5 L355.4 253.9 L356.1 258.7 L356.7 261.8 L357.2 262.9 L357.8 268.1 L358.3 272.5 L358.8 276.2 L359.3 278.9 L359.9 279.6 L360.4 282.5 L361.0 284.5 L361.7 287.3 L362.3 288.9 L362.9 286.1 L363.4 283.2 L364.0 279.3 L364.6 276.4 L365.3 272.6 L365.9 269.8 L366.4 274.9 L367.0 278.3 L367.5 282.5 L368.1 286.7 L368.7 292.1 L369.3 298.0 L369.9 303.2 L370.4 299.5 L370.9 296.2 L371.5 292.5 L372.0 288.9 L372.5 289.6 L373.1 289.7 L373.6 288.9 L374.2 291.3 L374.7 291.3 L375.3 290.3 L375.9 287.4 L376.5 284.5 L377.1 282.5 L377.7 282.0 L378.3 279.4 L378.9 277.3 L379.5 278.5 L380.1 277.6 L380.6 275.5 L381.2 276.4 L381.8 274.6 L382.3 273.5 L382.9 271.8 L383.4 273.8 L383.9 276.9 L384.5 274.8 L385.0 275.4 L385.6 273.2 L386.2 273.2 L386.8 274.0 L387.4 272.7 L388.0 274.9 L388.6 276.2 L389.2 279.4 L389.8 279.3 L390.3 281.3 L390.9 281.7 L391.4 283.6 L391.9 284.1 L392.5 284.2 L393.1 281.7 L393.7 280.0 L394.3 277.0 L394.8 274.5 L395.4 274.3 L395.9 274.0 L396.5 271.5 L397.0 270.6 L397.6 274.0 L398.2 275.6 L398.8 278.2 L399.4 279.3 L400.0 279.7 L400.5 283.4 L401.1 282.5 L401.7 281.7 L402.2 281.1 L402.8 281.0 L403.3 283.5 L403.8 279.7 L404.4 280.7 L404.9 279.3 L405.4 279.1 L406.0 276.6 L406.5 273.9 L407.0 274.0 L407.6 272.9 L408.1 271.1 L408.7 273.9 L409.3 275.0 L409.9 275.6 L410.5 277.0 L411.1 279.0 L411.7 279.6 L412.3 280.2 L412.9 280.9 L413.5 282.8 L414.1 284.2 L414.7 287.1 L415.3 288.1 L415.9 287.7 L416.5 289.0 L417.1 290.5 L417.7 291.3 L418.3 295.2 L419.0 301.9 L419.6 308.0 L420.1 302.1 L420.6 300.1 L421.1 297.9 L421.6 293.7 L422.2 295.4 L422.9 295.7 L423.5 296.8 L424.0 291.2 L424.6 284.6 L425.1 280.9 L425.6 281.4 L426.1 278.3 L426.7 277.4 L427.2 274.6 L427.8 275.0 L428.4 277.1 L429.0 276.6 L429.6 280.1 L430.1 282.6 L430.6 284.5 L431.2 282.8 L431.7 286.6 L432.2 288.3 L432.8 287.9 L433.4 284.1 L433.9 282.9 L434.5 283.9 L435.1 283.9 L435.6 285.6 L436.1 286.0 L436.7 288.8 L437.3 288.6 L437.8 288.6 L438.4 288.8 L438.9 288.6 L439.5 287.6 L440.0 288.2 L440.5 286.6 L441.0 282.6 L441.5 282.9 L442.0 281.1 L442.5 279.3 L443.0 278.1 L443.5 278.1 L444.1 279.4 L444.7 280.9 L445.3 282.9 L445.9 283.7 L446.5 282.5 L447.1 283.5 L447.7 285.5 L448.3 286.1 L448.8 286.7 L449.4 287.3 L449.9 288.4 L450.5 288.3 L451.0 290.0 L451.5 289.6 L452.1 288.1 L452.6 286.4 L453.1 285.3 L453.7 283.4 L454.3 282.8 L454.9 278.8 L455.5 280.8 L456.1 280.6 L456.7 282.7 L457.3 281.8 L457.9 284.5 L458.5 284.3 L459.0 283.9 L459.6 281.7 L460.2 282.9 L460.8 282.2 L461.4 281.7 L462.0 282.2 L462.6 281.3 L463.1 283.9 L463.7 285.1 L464.2 286.0 L464.8 288.7 L465.3 290.8 L465.8 287.7 L466.4 285.7 L466.9 282.2 L467.4 278.9 L468.0 274.9 L468.6 271.0 L469.2 268.9 L469.8 266.2 L470.4 263.1 L471.0 260.5 L471.6 259.5 L472.2 257.4 L472.7 257.2 L473.2 258.3 L473.7 259.2 L474.2 259.0 L474.7 257.3 L475.2 259.3 L475.7 255.0 L476.2 254.2 L476.8 252.5 L477.4 248.4 L477.9 246.6 L478.5 242.3 L479.1 238.4 L479.7 239.0 L480.3 239.0 L480.9 237.5 L481.5 239.0 L482.1 241.8 L482.7 240.3 L483.3 240.7 L483.8 241.6 L484.4 240.4 L484.9 240.0 L485.4 238.3 L485.9 239.5 L486.5 239.4 L487.0 240.8 L487.6 239.6 L488.1 241.5 L488.7 244.3 L489.3 243.1 L489.9 246.0 L490.5 247.1 L491.1 248.9 L491.7 245.6 L492.3 245.3 L492.9 244.7 L493.4 244.4 L494.0 241.5 L494.5 239.9 L495.0 241.1 L495.6 244.5 L496.1 246.3 L496.7 247.2 L497.2 247.5 L497.8 246.0 L498.4 247.1 L499.0 246.3 L499.6 243.4 L500.2 238.7 L500.8 235.9 L501.3 235.8 L501.9 234.6 L502.4 236.3 L502.9 234.3 L503.5 234.6 L504.2 237.2 L504.8 237.5 L505.4 235.5 L506.0 233.9 L506.6 234.1 L507.2 231.9 L507.8 233.2 L508.4 231.5 L509.0 230.5 L509.6 231.1 L510.2 231.6 L510.9 230.2 L511.5 229.9 L512.0 231.2 L512.5 233.5 L513.1 233.9 L513.6 233.5 L514.1 234.5 L514.6 239.3 L515.1 238.3 L515.6 239.9 L516.1 239.5 L516.7 236.5 L517.2 235.9 L517.8 237.4 L518.5 237.1 L519.1 240.7 L519.6 242.5 L520.2 241.7 L520.7 239.9 L521.3 240.7 L521.9 242.5 L522.5 244.6 L523.1 248.6 L523.6 248.8 L524.2 245.7 L524.7 245.0 L525.2 243.9 L525.8 239.8 L526.5 236.3 L527.1 232.7 L527.7 229.7 L528.3 229.2 L528.9 225.7 L529.5 225.6 L530.0 224.5 L530.6 223.8 L531.1 222.4 L531.7 225.1 L532.3 226.5 L532.9 227.9 L533.5 231.1 L534.1 229.9 L534.6 227.8 L535.2 228.8 L535.8 225.6 L536.4 227.1 L537.0 226.7 L537.6 226.9 L538.2 228.0 L538.8 226.8 L539.4 226.1 L540.0 226.4 L540.6 226.4 L541.2 227.3 L541.8 228.2 L542.4 228.9 L543.0 228.8 L543.6 230.4 L544.2 226.3 L544.8 226.3 L545.4 225.5 L546.0 228.2 L546.5 222.4 L547.1 223.5 L547.6 223.8 L548.2 223.1 L548.8 222.8 L549.3 222.7 L549.9 221.5 L550.5 221.7 L551.1 220.9 L551.6 221.2 L552.2 219.9 L552.7 217.1 L553.2 217.6 L553.8 218.0 L554.3 216.2 L554.8 215.6 L555.3 216.2 L555.8 217.0 L556.4 215.6 L556.9 217.2 L557.4 217.4 L558.0 217.0 L558.5 216.7 L559.1 218.1 L559.7 218.2 L560.3 217.5 L560.9 219.9 L561.5 219.5 L562.1 219.8 L562.6 218.3 L563.2 218.5 L563.8 218.3 L564.3 221.0 L564.9 220.9 L565.5 224.4 L566.0 225.5 L566.5 228.3 L567.0 226.1 L567.6 227.6 L568.1 227.9 L568.6 228.7 L569.1 230.0 L569.7 228.1 L570.2 228.3 L570.8 226.0 L571.3 226.3 L571.8 225.3 L572.3 224.3 L572.8 221.3 L573.3 222.3 L573.9 224.8 L574.6 224.9 L575.2 224.7 L575.8 220.5 L576.4 221.2 L577.0 217.9 L577.6 215.9 L578.2 214.6 L578.8 212.8 L579.4 208.9 L580.0 208.8 L580.6 209.1 L581.3 211.6 L581.9 210.4 L582.4 208.6 L582.9 207.0 L583.5 205.5 L584.0 204.5 L584.5 204.8 L585.0 204.9 L585.6 206.1 L586.1 204.3 L586.7 203.8 L587.2 203.2 L587.8 205.6 L588.4 202.2 L589.0 201.8 L589.6 202.4 L590.1 202.0 L590.6 201.0 L591.1 198.2 L591.6 198.4 L592.2 197.3 L592.8 199.1 L593.4 199.3 L594.0 199.2 L594.5 196.7 L595.1 197.0 L595.7 195.6 L596.2 195.2 L596.7 196.5 L597.2 196.7 L597.8 197.5 L598.3 198.0 L598.8 199.2 L599.3 201.4 L599.9 202.8 L600.5 201.8 L601.0 203.2 L601.5 204.1 L602.0 202.2 L602.6 203.1 L603.1 202.9 L603.6 202.0 L604.2 201.2 L604.7 197.3 L605.2 196.0 L605.8 195.7 L606.3 195.8 L606.9 193.7 L607.4 195.2 L607.9 194.0 L608.5 192.1 L609.0 192.1 L609.5 190.5 L610.0 189.4 L610.5 188.6 L611.0 191.1 L611.5 191.3 L612.1 190.8 L612.6 189.1 L613.2 189.9 L613.8 188.1 L614.3 187.3 L614.8 186.4 L615.3 187.2 L615.8 184.4 L616.3 185.7 L616.8 182.8 L617.4 181.4 L617.9 179.3 L618.5 181.1 L619.2 180.7 L619.8 181.7 L620.4 180.9 L621.0 178.6 L621.5 178.5 L622.1 178.9 L622.7 175.8 L623.2 176.1 L623.8 180.7 L624.4 178.3 L624.9 180.1 L625.4 181.1 L626.0 182.3 L626.5 184.3 L627.0 184.1 L627.5 188.0 L628.1 192.3 L628.6 200.0 L629.2 206.3 L629.8 211.2 L630.4 209.7 L631.1 207.1 L631.7 204.0 L632.2 206.4 L632.8 203.0 L633.3 202.5 L633.8 201.6 L634.4 201.3 L635.1 199.4 L635.7 197.6 L636.3 204.5 L637.0 206.2 L637.6 212.7 L638.2 208.5 L638.8 201.2 L639.4 202.3 L640.0 197.6 L640.6 199.0 L641.2 202.3 L641.8 205.5 L642.4 204.8 L642.9 208.3 L643.4 211.5 L644.0 214.7 L644.5 217.8 L645.0 222.3 L645.6 219.4 L646.3 218.8 L646.9 215.9 L647.4 217.3 L648.0 218.6 L648.5 219.9 L649.0 216.3 L649.5 214.1 L650.0 209.6 L650.6 209.4 L651.2 207.8 L651.8 208.0 L652.4 206.4 L653.0 205.0 L653.6 202.7 L654.2 204.5 L654.8 201.6 L655.3 201.8 L655.9 199.9 L656.4 201.9 L657.0 200.8 L657.5 200.1 L658.1 197.9 L658.6 201.1 L659.2 199.1 L659.8 198.3 L660.4 197.5 L661.0 194.8 L661.5 192.6 L662.1 190.9 L662.7 188.2 L663.3 190.3 L663.8 188.3 L664.4 187.1 L665.0 186.5 L665.5 189.2 L666.1 191.1 L666.6 193.3 L667.2 197.2 L667.9 199.2 L668.5 202.8 L669.1 198.7 L669.8 192.3 L670.4 190.7 L670.9 189.3 L671.5 189.6 L672.0 189.4 L672.5 186.5 L673.1 185.8 L673.6 185.0 L674.1 188.0 L674.6 186.9 L675.1 189.3 L675.6 191.5 L676.1 190.7 L676.6 191.9 L677.2 194.4 L677.7 193.4 L678.2 195.6 L678.8 196.4 L679.3 197.7 L679.8 196.7 L680.4 196.7 L680.9 196.9 L681.4 192.3 L682.0 191.2 L682.5 190.7 L683.1 188.3 L683.8 183.6 L684.4 181.8 L685.0 180.9 L685.7 179.5 L686.3 177.4 L686.9 178.3 L687.6 180.5 L688.2 181.2 L688.7 179.2 L689.2 181.6 L689.7 178.6 L690.2 179.4 L690.7 179.9 L691.2 178.8 L691.8 178.6 L692.3 179.6 L692.8 178.3 L693.4 177.4 L693.9 177.4 L694.5 179.5 L695.2 182.2 L695.8 181.8 L696.3 183.5 L696.9 185.6 L697.4 186.9 L698.0 186.8 L698.5 184.1 L699.1 180.7 L699.7 180.6 L700.3 181.4 L700.8 179.1 L701.4 172.2 L701.9 172.4 L702.5 170.4 L703.0 172.6 L703.6 174.9 L704.1 175.5 L704.7 178.6 L705.4 179.9 L706.0 182.5 L706.6 179.8 L707.1 179.7 L707.7 179.3 L708.3 176.7 L708.8 173.5 L709.4 171.7 L710.0 171.0 L710.5 169.1 L711.1 165.6 L711.8 166.3 L712.4 165.3 L712.9 164.4 L713.4 165.1 L713.9 163.4 L714.4 162.8 L714.9 163.4 L715.5 167.7 L716.2 172.9 L716.9 183.0 L717.5 193.3 L718.1 190.0 L718.8 188.2 L719.4 185.7 L719.9 189.1 L720.5 192.1 L721.0 193.3 L721.6 198.9 L722.2 199.6 L722.8 204.1 L723.4 200.5 L723.9 194.9 L724.5 194.6 L725.1 194.7 L725.8 189.5 L726.4 188.2 L726.9 185.8 L727.4 184.1 L727.9 181.2 L728.5 182.8 L729.0 188.1 L729.6 190.7 L730.2 191.7 L730.9 190.7 L731.5 193.9 L732.0 196.8 L732.5 200.4 L733.0 201.6 L733.5 199.2 L734.0 201.0" fill="none" stroke="#d00a0a" stroke-width="3.6" stroke-linejoin="round" stroke-linecap="round"/>
<path d="M91.6 314.5 L92.2 312.9 L92.7 311.9 L93.2 310.6 L93.7 307.9 L94.2 305.9 L94.7 303.3 L95.2 302.5 L95.8 301.8 L96.3 302.8 L96.9 301.6 L97.5 300.6 L98.1 302.5 L98.7 302.2 L99.3 303.1 L99.9 303.3 L100.4 302.9 L101.0 300.1 L101.5 302.4 L102.1 301.3 L102.6 300.1 L103.1 302.5 L103.7 301.8 L104.2 303.5 L104.7 307.3 L105.2 307.7 L105.8 309.6 L106.3 311.9 L106.8 312.9 L107.3 314.8 L107.9 317.4 L108.4 318.8 L109.0 315.0 L109.7 313.1 L110.3 309.7 L110.8 309.2 L111.4 307.0 L111.9 308.7 L112.4 306.4 L113.0 306.2 L113.5 303.8 L114.0 302.7 L114.5 302.1 L115.0 302.1 L115.6 301.9 L116.1 302.4 L116.6 301.2 L117.2 300.8 L117.8 299.3 L118.4 298.1 L119.0 298.5 L119.6 298.9 L120.2 301.9 L120.8 300.6 L121.4 302.5 L121.9 304.1 L122.5 305.7 L123.0 306.5 L123.6 303.8 L124.2 304.6 L124.8 305.0 L125.4 302.5 L125.9 299.3 L126.5 300.3 L127.0 299.7 L127.5 298.0 L128.0 298.6 L128.6 297.0 L129.1 296.2 L129.7 296.1 L130.4 300.3 L131.0 300.9 L131.6 303.5 L132.3 305.7 L132.9 306.5 L133.4 306.4 L133.9 303.3 L134.5 301.2 L135.0 299.3 L135.6 297.7 L136.1 299.8 L136.7 298.3 L137.2 298.3 L137.8 297.3 L138.3 297.5 L138.9 298.5 L139.5 297.8 L140.0 299.8 L140.6 295.8 L141.2 296.4 L141.8 298.2 L142.3 299.5 L142.9 297.7 L143.5 298.9 L144.1 296.5 L144.7 296.3 L145.3 299.7 L145.9 299.3 L146.4 297.2 L147.0 295.9 L147.6 297.5 L148.2 296.8 L148.7 294.8 L149.3 293.8 L149.8 293.5 L150.4 293.2 L150.9 294.0 L151.4 292.4 L152.0 291.7 L152.5 290.6 L153.0 291.4 L153.5 289.2 L154.1 292.6 L154.6 292.4 L155.1 292.1 L155.6 291.7 L156.1 289.2 L156.7 290.6 L157.2 292.1 L157.7 288.9 L158.3 290.6 L158.8 290.6 L159.3 291.4 L159.9 288.3 L160.4 291.3 L160.9 289.6 L161.5 288.4 L162.0 288.2 L162.5 289.2 L163.1 290.3 L163.6 290.3 L164.1 292.2 L164.7 290.8 L165.2 292.2 L165.8 291.6 L166.4 293.1 L167.0 291.9 L167.6 291.7 L168.1 290.2 L168.7 291.9 L169.2 292.0 L169.7 289.4 L170.3 287.9 L170.8 289.0 L171.4 290.0 L171.9 291.2 L172.5 292.3 L173.1 293.8 L173.6 296.4 L174.1 294.6 L174.7 298.2 L175.2 297.7 L175.7 295.1 L176.3 294.6 L176.8 295.1 L177.4 294.6 L177.9 292.2 L178.5 291.4 L179.1 289.0 L179.7 287.0 L180.3 285.0 L180.8 284.8 L181.4 284.9 L181.9 283.6 L182.4 283.7 L183.0 283.7 L183.5 282.6 L184.1 282.0 L184.6 282.3 L185.2 281.5 L185.8 282.6 L186.4 280.1 L186.9 278.7 L187.5 278.6 L188.0 277.3 L188.6 276.8 L189.1 276.9 L189.6 274.5 L190.2 274.5 L190.7 273.1 L191.2 276.1 L191.7 272.0 L192.2 274.6 L192.8 277.0 L193.3 278.1 L193.8 278.6 L194.3 279.9 L194.9 280.2 L195.4 282.6 L195.9 283.2 L196.5 283.3 L197.0 285.0 L197.6 291.6 L198.2 293.0 L198.8 295.7 L199.4 300.1 L200.0 297.4 L200.6 294.7 L201.2 292.3 L201.8 289.8 L202.4 284.4 L203.0 284.8 L203.6 284.3 L204.2 279.6 L204.8 278.7 L205.3 274.4 L205.9 271.3 L206.4 265.9 L206.9 265.7 L207.4 265.2 L207.9 260.4 L208.5 260.8 L209.0 259.6 L209.5 258.8 L210.1 258.4 L210.6 257.8 L211.2 252.3 L211.8 255.5 L212.4 251.4 L212.9 252.7 L213.5 250.8 L214.1 248.3 L214.7 249.4 L215.3 249.8 L215.9 247.6 L216.4 246.1 L216.9 245.1 L217.5 244.4 L218.0 242.1 L218.6 247.0 L219.3 251.5 L219.9 256.4 L220.5 261.6 L221.2 264.5 L221.8 266.7 L222.4 259.5 L223.0 256.1 L223.6 246.0 L224.2 244.9 L224.9 247.6 L225.5 246.8 L226.1 250.1 L226.7 254.2 L227.3 258.4 L227.9 261.2 L228.5 262.7 L229.1 264.4 L229.6 263.2 L230.2 266.2 L230.8 261.8 L231.4 261.6 L232.0 257.1 L232.6 255.6 L233.2 255.2 L233.8 255.5 L234.4 259.5 L235.0 258.8 L235.6 260.7 L236.3 262.6 L236.9 262.0 L237.4 258.7 L237.9 257.6 L238.5 254.1 L239.0 253.2 L239.6 252.3 L240.2 251.4 L240.8 246.8 L241.4 246.0 L241.9 247.1 L242.5 245.8 L243.0 243.8 L243.5 241.1 L244.1 244.4 L244.6 242.1 L245.2 241.4 L245.8 240.2 L246.4 240.8 L247.0 239.7 L247.6 241.1 L248.2 243.4 L248.7 241.5 L249.3 243.6 L249.8 246.2 L250.4 248.0 L250.9 247.6 L251.5 247.7 L252.2 244.3 L252.8 242.9 L253.3 241.4 L253.9 242.9 L254.4 241.2 L254.9 240.5 L255.4 242.4 L255.9 245.7 L256.5 245.5 L257.0 247.6 L257.5 244.3 L258.1 245.9 L258.6 243.5 L259.2 246.0 L259.7 244.4 L260.2 244.0 L260.8 242.1 L261.3 242.0 L261.8 242.2 L262.4 240.6 L262.9 239.7 L263.5 242.2 L264.1 241.6 L264.7 243.8 L265.3 243.6 L265.9 244.1 L266.5 243.1 L267.0 239.3 L267.6 238.9 L268.1 240.7 L268.6 238.3 L269.2 240.1 L269.7 242.1 L270.2 238.9 L270.8 241.4 L271.3 237.8 L271.9 238.2 L272.4 237.3 L273.0 235.9 L273.6 234.9 L274.2 233.0 L274.8 232.5 L275.4 231.6 L276.0 232.3 L276.5 229.2 L277.1 228.6 L277.7 226.9 L278.2 227.9 L278.8 226.4 L279.3 225.0 L279.9 225.6 L280.4 226.1 L281.0 228.3 L281.6 226.2 L282.2 228.4 L282.8 230.1 L283.4 231.7 L284.0 231.8 L284.6 231.3 L285.2 231.7 L285.8 231.2 L286.4 229.1 L286.9 226.1 L287.5 226.1 L288.1 225.9 L288.8 228.6 L289.4 230.9 L289.9 234.6 L290.5 235.6 L291.0 238.9 L291.6 238.7 L292.3 240.5 L292.8 242.5 L293.4 244.5 L293.9 249.2 L294.4 244.0 L295.0 237.8 L295.5 234.1 L296.0 232.0 L296.6 226.3 L297.1 226.5 L297.6 228.1 L298.2 228.2 L298.7 230.1 L299.4 232.3 L300.0 238.9 L300.6 236.8 L301.3 232.7 L301.9 230.1 L302.5 226.9 L303.0 227.9 L303.6 228.6 L304.2 227.7 L304.8 228.0 L305.4 230.2 L306.0 231.0 L306.6 230.9 L307.2 232.3 L307.8 232.5 L308.4 234.2 L309.0 233.3 L309.6 244.8 L310.1 254.8 L310.9 273.1 L311.5 264.5 L312.2 254.8 L312.7 257.2 L313.3 265.4 L313.8 269.1 L314.3 268.5 L314.9 264.5 L315.4 262.7 L315.9 262.4 L316.4 265.5 L316.9 261.5 L317.4 263.8 L318.0 262.9 L318.6 263.6 L319.2 258.3 L319.8 257.9 L320.4 261.9 L320.9 266.4 L321.5 267.3 L322.0 271.3 L322.6 273.8 L323.1 272.1 L323.7 267.3 L324.2 265.5 L324.8 263.3 L325.3 260.2 L325.9 260.2 L326.5 258.2 L327.1 257.1 L327.7 256.3 L328.3 254.5 L328.9 254.7 L329.5 255.5 L330.1 253.9 L330.6 252.4 L331.1 249.7 L331.7 248.1 L332.2 247.5 L332.8 250.0 L333.3 247.6 L333.8 246.4 L334.4 245.1 L334.9 241.1 L335.4 243.8 L336.0 242.7 L336.5 241.1 L337.1 245.4 L337.7 246.4 L338.3 248.2 L338.9 250.7 L339.5 249.7 L340.1 245.3 L340.7 247.1 L341.3 244.3 L341.8 244.5 L342.3 243.1 L342.8 245.2 L343.3 243.5 L343.9 245.1 L344.5 240.9 L345.0 241.2 L345.6 241.5 L346.1 242.9 L346.6 243.9 L347.1 244.3 L347.6 245.9 L348.1 247.8 L348.6 254.3 L349.2 256.1 L349.7 257.9 L350.3 254.1 L351.0 251.6 L351.6 250.7 L352.1 254.5 L352.7 255.6 L353.2 256.3 L353.7 256.8 L354.3 254.0 L354.8 251.5 L355.4 253.9 L356.1 258.7 L356.7 261.8 L357.2 262.9 L357.8 268.1 L358.3 272.5 L358.8 276.2 L359.3 278.9 L359.9 279.6 L360.4 282.5 L361.0 284.5 L361.7 287.3 L362.3 288.9 L362.9 286.1 L363.4 283.2 L364.0 279.3 L364.6 276.4 L365.3 272.6 L365.9 269.8 L366.4 274.9 L367.0 278.3 L367.5 282.5 L368.1 286.7 L368.7 292.1 L369.3 298.0 L369.9 303.2 L370.4 299.5 L370.9 296.2 L371.5 292.5 L372.0 288.9 L372.5 289.6 L373.1 289.7 L373.6 288.9 L374.2 291.3 L374.7 291.3 L375.3 290.3 L375.9 287.4 L376.5 284.5 L377.1 282.5 L377.7 282.0 L378.3 279.4 L378.9 277.3 L379.5 278.5 L380.1 277.6 L380.6 275.5 L381.2 276.4 L381.8 274.6 L382.3 273.5 L382.9 271.8 L383.4 273.8 L383.9 276.9 L384.5 274.8 L385.0 275.4 L385.6 273.2 L386.2 273.2 L386.8 274.0 L387.4 272.7 L388.0 274.9 L388.6 276.2 L389.2 279.4 L389.8 279.3 L390.3 281.3 L390.9 281.7 L391.4 283.6 L391.9 284.1 L392.5 284.2 L393.1 281.7 L393.7 280.0 L394.3 277.0 L394.8 274.5 L395.4 274.3 L395.9 274.0 L396.5 271.5 L397.0 270.6 L397.6 274.0 L398.2 275.6 L398.8 278.2 L399.4 279.3 L400.0 279.7 L400.5 283.4 L401.1 282.5 L401.7 281.7 L402.2 281.1 L402.8 281.0 L403.3 283.5 L403.8 279.7 L404.4 280.7 L404.9 279.3 L405.4 279.1 L406.0 276.6 L406.5 273.9 L407.0 274.0 L407.6 272.9 L408.1 271.1 L408.7 273.9 L409.3 275.0 L409.9 275.6 L410.5 277.0 L411.1 279.0 L411.7 279.6 L412.3 280.2 L412.9 280.9 L413.5 282.8 L414.1 284.2 L414.7 287.1 L415.3 288.1 L415.9 287.7 L416.5 289.0 L417.1 290.5 L417.7 291.3 L418.3 295.2 L419.0 301.9 L419.6 308.0 L420.1 302.1 L420.6 300.1 L421.1 297.9 L421.6 293.7 L422.2 295.4 L422.9 295.7 L423.5 296.8 L424.0 291.2 L424.6 284.6 L425.1 280.9 L425.6 281.4 L426.1 278.3 L426.7 277.4 L427.2 274.6 L427.8 275.0 L428.4 277.1 L429.0 276.6 L429.6 280.1 L430.1 282.6 L430.6 284.5 L431.2 282.8 L431.7 286.6 L432.2 288.3 L432.8 287.9 L433.4 284.1 L433.9 282.9 L434.5 283.9 L435.1 283.9 L435.6 285.6 L436.1 286.0 L436.7 288.8 L437.3 288.6 L437.8 288.6 L438.4 288.8 L438.9 288.6 L439.5 287.6 L440.0 288.2 L440.5 286.6 L441.0 282.6 L441.5 282.9 L442.0 281.1 L442.5 279.3 L443.0 278.1 L443.5 278.1 L444.1 279.4 L444.7 280.9 L445.3 282.9 L445.9 283.7 L446.5 282.5 L447.1 283.5 L447.7 285.5 L448.3 286.1 L448.8 286.7 L449.4 287.3 L449.9 288.4 L450.5 288.3 L451.0 290.0 L451.5 289.6 L452.1 288.1 L452.6 286.4 L453.1 285.3 L453.7 283.4 L454.3 282.8 L454.9 278.8 L455.5 280.8 L456.1 280.6 L456.7 282.7 L457.3 281.8 L457.9 284.5 L458.5 284.3 L459.0 283.9 L459.6 281.7 L460.2 282.9 L460.8 282.2 L461.4 281.7 L462.0 282.2 L462.6 281.3 L463.1 283.9 L463.7 285.1 L464.2 286.0 L464.8 288.7 L465.3 290.8 L465.8 287.7 L466.4 285.7 L466.9 282.2 L467.4 278.9 L468.0 274.9 L468.6 271.0 L469.2 268.9 L469.8 266.2 L470.4 263.1 L471.0 260.5 L471.6 259.5 L472.2 257.4 L472.7 257.2 L473.2 258.3 L473.7 259.2 L474.2 259.0 L474.7 257.3 L475.2 259.3 L475.7 255.0 L476.2 254.2 L476.8 252.5 L477.4 248.4 L477.9 246.6 L478.5 242.3 L479.1 238.4 L479.7 239.0 L480.3 239.0 L480.9 237.5 L481.5 239.0 L482.1 241.8 L482.7 240.3 L483.3 240.7 L483.8 241.6 L484.4 240.4 L484.9 240.0 L485.4 238.3 L485.9 239.5 L486.5 239.4 L487.0 240.8 L487.6 239.6 L488.1 241.5 L488.7 244.3 L489.3 243.1 L489.9 246.0 L490.5 247.1 L491.1 248.9 L491.7 245.6 L492.3 245.3 L492.9 244.7 L493.4 244.4 L494.0 241.5 L494.5 239.9 L495.0 241.1 L495.6 244.5 L496.1 246.3 L496.7 247.2 L497.2 247.5 L497.8 246.0 L498.4 247.1 L499.0 246.3 L499.6 243.4 L500.2 238.7 L500.8 235.9 L501.3 235.8 L501.9 234.6 L502.4 236.3 L502.9 234.3 L503.5 234.6 L504.2 237.2 L504.8 237.5 L505.4 235.5 L506.0 233.9 L506.6 234.1 L507.2 231.9 L507.8 233.2 L508.4 231.5 L509.0 230.5 L509.6 231.1 L510.2 231.6 L510.9 230.2 L511.5 229.9 L512.0 231.2 L512.5 233.5 L513.1 233.9 L513.6 233.5 L514.1 234.5 L514.6 239.3 L515.1 238.3 L515.6 239.9 L516.1 239.5 L516.7 236.5 L517.2 235.9 L517.8 237.4 L518.5 237.1 L519.1 240.7 L519.6 242.5 L520.2 241.7 L520.7 239.9 L521.3 240.7 L521.9 242.5 L522.5 244.6 L523.1 248.6 L523.6 248.8 L524.2 245.7 L524.7 245.0 L525.2 243.9 L525.8 239.8 L526.5 236.3 L527.1 232.7 L527.7 229.7 L528.3 229.2 L528.9 225.7 L529.5 225.6 L530.0 224.5 L530.6 223.8 L531.1 222.4 L531.7 225.1 L532.3 226.5 L532.9 227.9 L533.5 231.1 L534.1 229.9 L534.6 227.8 L535.2 228.8 L535.8 225.6 L536.4 227.1 L537.0 226.7 L537.6 226.9 L538.2 228.0 L538.8 226.8 L539.4 226.1 L540.0 226.4 L540.6 226.4 L541.2 227.3 L541.8 228.2 L542.4 228.9 L543.0 228.8 L543.6 230.4 L544.2 226.3 L544.8 226.3 L545.4 225.5 L546.0 228.2 L546.5 222.4 L547.1 223.5 L547.6 223.8 L548.2 223.1 L548.8 222.8 L549.3 222.7 L549.9 221.5 L550.5 221.7 L551.1 220.9 L551.6 221.2 L552.2 219.9 L552.7 217.1 L553.2 217.6 L553.8 218.0 L554.3 216.2 L554.8 215.6 L555.3 216.2 L555.8 217.0 L556.4 215.6 L556.9 217.2 L557.4 217.4 L558.0 217.0 L558.5 216.7 L559.1 218.1 L559.7 218.2 L560.3 217.5 L560.9 219.9 L561.5 219.5 L562.1 219.8 L562.6 218.3 L563.2 218.5 L563.8 218.3 L564.3 221.0 L564.9 220.9 L565.5 224.4 L566.0 225.5 L566.5 228.3 L567.0 226.1 L567.6 227.6 L568.1 227.9 L568.6 228.7 L569.1 230.0 L569.7 228.1 L570.2 228.3 L570.8 226.0 L571.3 226.3 L571.8 225.3 L572.3 224.3 L572.8 221.3 L573.3 222.3 L573.9 224.8 L574.6 224.9 L575.2 224.7 L575.8 220.5 L576.4 221.2 L577.0 217.9 L577.6 215.9 L578.2 214.6 L578.8 212.8 L579.4 208.9 L580.0 208.8 L580.6 209.1 L581.3 211.6 L581.9 210.4 L582.4 208.6 L582.9 207.0 L583.5 205.5 L584.0 204.5 L584.5 204.8 L585.0 204.9 L585.6 206.1 L586.1 204.3 L586.7 203.8 L587.2 203.2 L587.8 205.6 L588.4 202.2 L589.0 201.8 L589.6 202.4 L590.1 202.0 L590.6 201.0 L591.1 198.2 L591.6 198.4 L592.2 197.3 L592.8 199.1 L593.4 199.3 L594.0 199.2 L594.5 196.7 L595.1 197.0 L595.7 195.6 L596.2 195.2 L596.7 196.5 L597.2 196.7 L597.8 197.5 L598.3 198.0 L598.8 199.2 L599.3 201.4 L599.9 202.8 L600.5 201.8 L601.0 203.2 L601.5 204.1 L602.0 202.2 L602.6 203.1 L603.1 202.9 L603.6 202.0 L604.2 201.2 L604.7 197.3 L605.2 196.0 L605.8 195.7 L606.3 195.8 L606.9 193.7 L607.4 195.2 L607.9 194.0 L608.5 192.1 L609.0 192.1 L609.5 190.5 L610.0 189.4 L610.5 188.6 L611.0 191.1 L611.5 191.3 L612.1 190.8 L612.6 189.1 L613.2 189.9 L613.8 188.1 L614.3 187.3 L614.8 186.4 L615.3 187.2 L615.8 184.4 L616.3 185.7 L616.8 182.8 L617.4 181.4 L617.9 179.3 L618.5 181.1 L619.2 180.7 L619.8 181.7 L620.4 180.9 L621.0 178.6 L621.5 178.5 L622.1 178.9 L622.7 175.8 L623.2 176.1 L623.8 180.7 L624.4 178.3 L624.9 180.1 L625.4 181.1 L626.0 182.3 L626.5 184.3 L627.0 184.1 L627.5 188.0 L628.1 192.3 L628.6 200.0 L629.2 206.3 L629.8 211.2 L630.4 209.7 L631.1 207.1 L631.7 204.0 L632.2 206.4 L632.8 203.0 L633.3 202.5 L633.8 201.6 L634.4 201.3 L635.1 199.4 L635.7 197.6 L636.3 204.5 L637.0 206.2 L637.6 212.7 L638.2 208.5 L638.8 201.2 L639.4 202.3 L640.0 197.6 L640.6 199.0 L641.2 202.3 L641.8 205.5 L642.4 204.8 L642.9 208.3 L643.4 211.5 L644.0 214.7 L644.5 217.8 L645.0 222.3 L645.6 219.4 L646.3 218.8 L646.9 215.9 L647.4 217.3 L648.0 218.6 L648.5 219.9 L649.0 216.3 L649.5 214.1 L650.0 209.6 L650.6 209.4 L651.2 207.8 L651.8 208.0 L652.4 206.4 L653.0 205.0 L653.6 202.7 L654.2 204.5 L654.8 201.6 L655.3 201.8 L655.9 199.9 L656.4 201.9 L657.0 200.8 L657.5 200.1 L658.1 197.9 L658.6 201.1 L659.2 199.1 L659.8 198.3 L660.4 197.5 L661.0 194.8 L661.5 192.6 L662.1 190.9 L662.7 188.2 L663.3 190.3 L663.8 188.3 L664.4 187.1 L665.0 186.5 L665.5 189.2 L666.1 191.1 L666.6 193.3 L667.2 197.2 L667.9 199.2 L668.5 202.8 L669.1 198.7 L669.8 192.3 L670.4 190.7 L670.9 189.3 L671.5 189.6 L672.0 189.4 L672.5 186.5 L673.1 185.8 L673.6 185.0 L674.1 188.0 L674.6 186.9 L675.1 189.3 L675.6 191.5 L676.1 190.7 L676.6 191.9 L677.2 194.4 L677.7 193.4 L678.2 195.6 L678.8 196.4 L679.3 197.7 L679.8 196.7 L680.4 196.7 L680.9 196.9 L681.4 192.3 L682.0 191.2 L682.5 190.7 L683.1 188.3 L683.8 183.6 L684.4 181.8 L685.0 180.9 L685.7 179.5 L686.3 177.4 L686.9 178.3 L687.6 180.5 L688.2 181.2 L688.7 179.2 L689.2 181.6 L689.7 178.6 L690.2 179.4 L690.7 179.9 L691.2 178.8 L691.8 178.6 L692.3 179.6 L692.8 178.3 L693.4 177.4 L693.9 177.4 L694.5 179.5 L695.2 182.2 L695.8 181.8 L696.3 183.5 L696.9 185.6 L697.4 186.9 L698.0 186.8 L698.5 184.1 L699.1 180.7 L699.7 180.6 L700.3 181.4 L700.8 179.1 L701.4 172.2 L701.9 172.4 L702.5 170.4 L703.0 172.6 L703.6 174.9 L704.1 175.5 L704.7 178.6 L705.4 179.9 L706.0 182.5 L706.6 179.8 L707.1 179.7 L707.7 179.3 L708.3 176.7 L708.8 173.5 L709.4 171.7 L710.0 171.0 L710.5 169.1 L711.1 165.6 L711.8 166.3 L712.4 165.3 L712.9 164.4 L713.4 165.1 L713.9 163.4 L714.4 162.8 L714.9 163.4 L715.5 167.7 L716.2 172.9 L716.9 183.0 L717.5 193.3 L718.1 190.0 L718.8 188.2 L719.4 185.7 L719.9 189.1 L720.5 192.1 L721.0 193.3 L721.6 198.9 L722.2 199.6 L722.8 204.1 L723.4 200.5 L723.9 194.9 L724.5 194.6 L725.1 194.7 L725.8 189.5 L726.4 188.2 L726.9 185.8 L727.4 184.1 L727.9 181.2 L728.5 182.8 L729.0 188.1 L729.6 190.7 L730.2 191.7 L730.9 190.7 L731.5 193.9 L732.0 196.8 L732.5 200.4 L733.0 201.6 L733.5 199.2 L734.0 201.0" fill="none" stroke="#0d87c9" stroke-width="3.6" stroke-linejoin="round" stroke-linecap="round"/>
<text x="67.8" y="171.0" text-anchor="end" font-size="16" fill="#2b2b2b" class="n">16,000</text>
<text x="67.8" y="216.2" text-anchor="end" font-size="16" fill="#2b2b2b" class="n">14,000</text>
<text x="67.8" y="262.4" text-anchor="end" font-size="16" fill="#2b2b2b" class="n">12,000</text>
<text x="67.8" y="307.4" text-anchor="end" font-size="16" fill="#2b2b2b" class="n">10,000</text>
<text x="67.8" y="352.5" text-anchor="end" font-size="16" fill="#2b2b2b" class="n">8,000</text>
<text x="67.8" y="414.1" text-anchor="end" font-size="16" fill="#2b2b2b" class="n">0</text>
<text x="67.8" y="496.7" text-anchor="end" font-size="16" fill="#2b2b2b" class="n">100,000</text>
<text x="67.8" y="517.2" text-anchor="end" font-size="16" fill="#2b2b2b" class="n">0</text>
<text x="82.8" y="121.2" font-size="18.2" fill="#2b2b2b" class="n">基準価額(円)</text>
<text x="83.4" y="382.2" font-size="18.2" fill="#2b2b2b" class="n">分配金(円)</text>
<text x="82.8" y="464.2" font-size="18.2" fill="#2b2b2b" class="n">純資産総額(百万円)</text>
<text x="96.9" y="549.5" text-anchor="middle" font-size="16" fill="#2b2b2b" transform="rotate(-10 96.9 544)">2014</text>
<text x="355.0" y="549.5" text-anchor="middle" font-size="16" fill="#2b2b2b" transform="rotate(-10 355.0 544)">2016</text>
<text x="616.1" y="549.5" text-anchor="middle" font-size="16" fill="#2b2b2b" transform="rotate(-10 616.1 544)">2018</text>
<path d="M18 19.3 H42" stroke="#0d8ad0" stroke-width="2.5" fill="none"/>
<text x="49.5" y="25.5" font-size="17.7" font-weight="bold" fill="#2b2b2b">基準価額</text>
<path d="M152 19.3 H176" stroke="#d00a0a" stroke-width="2.5" fill="none"/>
<text x="182.5" y="25.5" font-size="18" font-weight="bold" fill="#2b2b2b">分配金込・再投資後の基準価額</text>
<text x="733" y="19.3" text-anchor="end" font-size="18.35" fill="#2b2b2b" class="n">2018年11月26日 時点</text>
<rect x="611.2" y="55.6" width="66.6" height="32.6" rx="13" ry="13" fill="#0b3a9b"/>
<text x="129.6" y="76.3" text-anchor="middle" font-size="18" font-weight="bold" fill="#0b3a9b">1ヶ月</text>
<text x="203" y="76.3" text-anchor="middle" font-size="18" font-weight="bold" fill="#0b3a9b">3ヶ月</text>
<text x="278" y="76.3" text-anchor="middle" font-size="18" font-weight="bold" fill="#0b3a9b">半年</text>
<text x="350.6" y="76.3" text-anchor="middle" font-size="18" font-weight="bold" fill="#0b3a9b">1年</text>
<text x="423.9" y="76.3" text-anchor="middle" font-size="18" font-weight="bold" fill="#0b3a9b">3年</text>
<text x="496.7" y="76.3" text-anchor="middle" font-size="18" font-weight="bold" fill="#cccccc">5年</text>
<text x="571.8" y="76.3" text-anchor="middle" font-size="18" font-weight="bold" fill="#0b3a9b">年初来</text>
<text x="644.5" y="76.3" text-anchor="middle" font-size="18" font-weight="bold" fill="#ffffff">全期間</text>
<rect x="110.6" y="562" width="601.4" height="44.6" fill="#d7e5f7"/>
<path d="M117.3 562 V606.5" stroke="#c4d3e6" stroke-width="1" fill="none"/>
<path d="M360.6 562 V606.5" stroke="#c4d3e6" stroke-width="1" fill="none"/>
<path d="M602.5 562 V606.5" stroke="#c4d3e6" stroke-width="1" fill="none"/>
<path d="M112.2 600.6 L113.2 600.0 L115.6 597.8 L117.9 597.4 L120.1 598.0 L122.7 597.3 L124.7 598.9 L126.7 600.2 L128.2 601.6 L130.0 599.5 L133.0 598.1 L135.9 597.5 L138.2 596.9 L140.5 597.8 L142.0 598.8 L144.3 597.8 L147.8 596.4 L149.6 597.5 L151.4 598.8 L153.4 597.1 L157.0 596.9 L160.8 596.7 L163.1 597.2 L166.9 595.8 L169.9 595.1 L172.9 595.3 L175.9 595.1 L178.9 594.5 L181.9 595.4 L184.2 595.3 L187.2 594.7 L189.4 595.8 L191.4 596.7 L194.0 595.4 L196.2 593.8 L199.3 593.2 L203.0 592.3 L206.1 591.0 L209.0 592.3 L212.0 593.8 L214.3 597.3 L216.6 594.9 L219.5 592.3 L221.1 589.3 L224.1 587.7 L227.9 585.9 L230.3 585.1 L232.3 583.8 L234.1 587.1 L235.9 589.5 L237.6 584.7 L239.4 584.9 L241.7 588.3 L243.8 589.4 L246.1 587.0 L248.4 587.7 L250.2 588.4 L252.2 586.4 L254.4 584.7 L257.5 583.8 L259.7 583.3 L261.9 584.2 L263.4 585.1 L265.2 584.0 L267.2 583.5 L269.2 585.1 L271.7 584.4 L274.8 583.3 L277.0 584.2 L279.2 583.1 L281.2 583.8 L283.8 582.7 L286.0 581.6 L288.8 580.3 L291.3 580.1 L293.4 581.1 L295.6 581.4 L297.6 580.1 L299.3 581.2 L300.7 583.1 L301.9 583.5 L303.3 585.5 L304.8 582.0 L306.2 580.2 L307.6 581.1 L308.8 583.1 L310.5 581.1 L312.6 580.5 L314.7 581.2 L316.9 581.8 L317.8 586.8 L318.6 591.0 L319.8 586.8 L321.2 590.1 L322.7 588.6 L324.5 588.9 L326.7 587.5 L329.3 591.2 L331.9 588.0 L334.2 587.1 L336.5 586.6 L338.6 585.1 L340.7 584.5 L342.7 583.6 L345.0 585.8 L347.4 584.3 L349.3 584.2 L351.5 583.7 L353.5 584.7 L355.5 587.5 L357.3 585.8 L358.9 587.1 L360.4 586.0 L362.1 588.4 L364.0 591.7 L365.4 593.2 L367.1 594.7 L368.6 592.5 L370.3 590.3 L371.7 593.2 L373.8 598.0 L375.8 594.7 L378.4 595.2 L380.7 593.2 L383.0 592.3 L385.1 591.4 L388.2 591.6 L390.5 590.9 L392.8 592.5 L394.8 593.6 L397.1 591.9 L399.6 590.4 L401.9 592.5 L404.1 593.0 L407.2 592.5 L410.2 590.6 L412.5 591.9 L414.8 592.8 L417.1 594.5 L419.4 595.2 L421.2 599.1 L423.1 595.8 L424.9 596.5 L426.5 592.8 L428.5 591.4 L430.8 592.6 L433.3 594.5 L435.5 593.5 L437.6 594.7 L440.3 594.4 L442.2 593.3 L444.1 592.2 L446.4 593.5 L448.8 594.0 L451.3 594.9 L453.4 593.8 L455.7 592.8 L458.0 593.7 L460.2 593.3 L462.5 592.9 L465.1 595.1 L467.1 592.4 L469.4 589.4 L471.7 587.4 L473.6 587.8 L475.5 586.6 L477.7 583.9 L480.0 582.8 L482.2 583.5 L484.1 583.0 L486.6 583.7 L488.7 585.0 L490.9 584.4 L492.4 583.3 L493.9 584.8 L496.0 585.0 L498.1 582.4 L500.1 582.0 L501.8 582.8 L504.0 581.5 L506.2 581.3 L507.9 581.0 L509.8 581.8 L511.7 583.3 L513.1 582.4 L514.8 583.5 L516.3 583.3 L518.5 585.3 L520.5 584.3 L522.3 581.7 L524.6 580.0 L526.1 579.3 L528.4 581.3 L530.6 580.0 L532.9 580.6 L535.2 580.2 L537.5 580.8 L539.8 580.0 L542.5 579.4 L546.3 578.7 L549.3 577.8 L552.3 577.9 L554.6 578.7 L557.4 578.3 L559.5 580.0 L562.0 580.7 L564.3 580.2 L566.0 579.2 L567.6 579.8 L569.7 577.8 L571.7 576.1 L573.3 576.5 L575.6 575.2 L577.9 574.8 L579.9 574.6 L581.6 573.7 L583.7 573.9 L585.5 573.0 L587.7 573.9 L589.6 574.8 L591.4 574.8 L593.2 573.2 L595.1 573.0 L596.9 571.9 L598.6 572.1 L600.5 571.3 L602.7 570.8 L604.4 569.3 L606.3 569.8 L609.3 568.5 L611.5 569.5 L613.6 570.4 L615.2 574.1 L616.4 576.7 L618.3 575.0 L620.4 574.5 L622.2 573.5 L624.1 577.0 L626.5 573.5 L628.9 575.2 L631.5 579.2 L633.2 577.8 L634.6 578.7 L635.9 576.3 L638.1 575.6 L640.2 574.5 L642.6 574.1 L644.7 573.7 L646.7 572.0 L649.3 571.0 L650.7 572.5 L652.4 574.7 L654.1 571.9 L656.9 570.6 L659.2 571.9 L662.0 573.5 L664.9 571.9 L666.6 569.9 L668.3 568.8 L669.9 569.7 L672.2 569.4 L675.0 568.8 L676.7 569.9 L678.1 571.0 L680.2 569.6 L682.7 567.2 L684.1 568.4 L685.8 570.0 L687.8 568.7 L689.8 566.9 L691.5 566.0 L693.7 565.6 L695.2 567.8 L696.8 572.5 L699.0 570.8 L700.9 572.5 L703.0 575.0 L704.3 572.8 L705.8 571.3 L707.0 569.7 L708.3 571.9 L709.7 572.7 L710.9 574.5 L711.7 574.3 L711.7 606.5 L112.2 606.5 Z" fill="#4d7fc4" fill-opacity="0.06" stroke="none"/>
<path d="M112.2 600.6 L113.2 600.0 L115.6 597.8 L117.9 597.4 L120.1 598.0 L122.7 597.3 L124.7 598.9 L126.7 600.2 L128.2 601.6 L130.0 599.5 L133.0 598.1 L135.9 597.5 L138.2 596.9 L140.5 597.8 L142.0 598.8 L144.3 597.8 L147.8 596.4 L149.6 597.5 L151.4 598.8 L153.4 597.1 L157.0 596.9 L160.8 596.7 L163.1 597.2 L166.9 595.8 L169.9 595.1 L172.9 595.3 L175.9 595.1 L178.9 594.5 L181.9 595.4 L184.2 595.3 L187.2 594.7 L189.4 595.8 L191.4 596.7 L194.0 595.4 L196.2 593.8 L199.3 593.2 L203.0 592.3 L206.1 591.0 L209.0 592.3 L212.0 593.8 L214.3 597.3 L216.6 594.9 L219.5 592.3 L221.1 589.3 L224.1 587.7 L227.9 585.9 L230.3 585.1 L232.3 583.8 L234.1 587.1 L235.9 589.5 L237.6 584.7 L239.4 584.9 L241.7 588.3 L243.8 589.4 L246.1 587.0 L248.4 587.7 L250.2 588.4 L252.2 586.4 L254.4 584.7 L257.5 583.8 L259.7 583.3 L261.9 584.2 L263.4 585.1 L265.2 584.0 L267.2 583.5 L269.2 585.1 L271.7 584.4 L274.8 583.3 L277.0 584.2 L279.2 583.1 L281.2 583.8 L283.8 582.7 L286.0 581.6 L288.8 580.3 L291.3 580.1 L293.4 581.1 L295.6 581.4 L297.6 580.1 L299.3 581.2 L300.7 583.1 L301.9 583.5 L303.3 585.5 L304.8 582.0 L306.2 580.2 L307.6 581.1 L308.8 583.1 L310.5 581.1 L312.6 580.5 L314.7 581.2 L316.9 581.8 L317.8 586.8 L318.6 591.0 L319.8 586.8 L321.2 590.1 L322.7 588.6 L324.5 588.9 L326.7 587.5 L329.3 591.2 L331.9 588.0 L334.2 587.1 L336.5 586.6 L338.6 585.1 L340.7 584.5 L342.7 583.6 L345.0 585.8 L347.4 584.3 L349.3 584.2 L351.5 583.7 L353.5 584.7 L355.5 587.5 L357.3 585.8 L358.9 587.1 L360.4 586.0 L362.1 588.4 L364.0 591.7 L365.4 593.2 L367.1 594.7 L368.6 592.5 L370.3 590.3 L371.7 593.2 L373.8 598.0 L375.8 594.7 L378.4 595.2 L380.7 593.2 L383.0 592.3 L385.1 591.4 L388.2 591.6 L390.5 590.9 L392.8 592.5 L394.8 593.6 L397.1 591.9 L399.6 590.4 L401.9 592.5 L404.1 593.0 L407.2 592.5 L410.2 590.6 L412.5 591.9 L414.8 592.8 L417.1 594.5 L419.4 595.2 L421.2 599.1 L423.1 595.8 L424.9 596.5 L426.5 592.8 L428.5 591.4 L430.8 592.6 L433.3 594.5 L435.5 593.5 L437.6 594.7 L440.3 594.4 L442.2 593.3 L444.1 592.2 L446.4 593.5 L448.8 594.0 L451.3 594.9 L453.4 593.8 L455.7 592.8 L458.0 593.7 L460.2 593.3 L462.5 592.9 L465.1 595.1 L467.1 592.4 L469.4 589.4 L471.7 587.4 L473.6 587.8 L475.5 586.6 L477.7 583.9 L480.0 582.8 L482.2 583.5 L484.1 583.0 L486.6 583.7 L488.7 585.0 L490.9 584.4 L492.4 583.3 L493.9 584.8 L496.0 585.0 L498.1 582.4 L500.1 582.0 L501.8 582.8 L504.0 581.5 L506.2 581.3 L507.9 581.0 L509.8 581.8 L511.7 583.3 L513.1 582.4 L514.8 583.5 L516.3 583.3 L518.5 585.3 L520.5 584.3 L522.3 581.7 L524.6 580.0 L526.1 579.3 L528.4 581.3 L530.6 580.0 L532.9 580.6 L535.2 580.2 L537.5 580.8 L539.8 580.0 L542.5 579.4 L546.3 578.7 L549.3 577.8 L552.3 577.9 L554.6 578.7 L557.4 578.3 L559.5 580.0 L562.0 580.7 L564.3 580.2 L566.0 579.2 L567.6 579.8 L569.7 577.8 L571.7 576.1 L573.3 576.5 L575.6 575.2 L577.9 574.8 L579.9 574.6 L581.6 573.7 L583.7 573.9 L585.5 573.0 L587.7 573.9 L589.6 574.8 L591.4 574.8 L593.2 573.2 L595.1 573.0 L596.9 571.9 L598.6 572.1 L600.5 571.3 L602.7 570.8 L604.4 569.3 L606.3 569.8 L609.3 568.5 L611.5 569.5 L613.6 570.4 L615.2 574.1 L616.4 576.7 L618.3 575.0 L620.4 574.5 L622.2 573.5 L624.1 577.0 L626.5 573.5 L628.9 575.2 L631.5 579.2 L633.2 577.8 L634.6 578.7 L635.9 576.3 L638.1 575.6 L640.2 574.5 L642.6 574.1 L644.7 573.7 L646.7 572.0 L649.3 571.0 L650.7 572.5 L652.4 574.7 L654.1 571.9 L656.9 570.6 L659.2 571.9 L662.0 573.5 L664.9 571.9 L666.6 569.9 L668.3 568.8 L669.9 569.7 L672.2 569.4 L675.0 568.8 L676.7 569.9 L678.1 571.0 L680.2 569.6 L682.7 567.2 L684.1 568.4 L685.8 570.0 L687.8 568.7 L689.8 566.9 L691.5 566.0 L693.7 565.6 L695.2 567.8 L696.8 572.5 L699.0 570.8 L700.9 572.5 L703.0 575.0 L704.3 572.8 L705.8 571.3 L707.0 569.7 L708.3 571.9 L709.7 572.7 L710.9 574.5 L711.7 574.3" fill="none" stroke="#5588cc" stroke-width="1.4" stroke-linejoin="round"/>
<text x="123.2" y="599.7" font-size="16" fill="#999">2014</text>
<text x="365.8" y="599.7" font-size="16" fill="#999">2016</text>
<text x="607.6" y="599.7" font-size="16" fill="#999">2018</text>
<path d="M90 561.9 H733.6 M110.3 561.9 V606.6 M712.0 561.9 V606.6" stroke="#aaa" stroke-width="1.25" fill="none"/>
<rect x="104.1" y="572.3" width="12.4" height="23.2" fill="#f2f2f2" stroke="#999" stroke-width="1.25"/>
<path d="M108.5 578 V590 M112.0 578 V590" stroke="#999" stroke-width="1.25" fill="none"/>
<rect x="705.6999999999999" y="572.3" width="12.4" height="23.2" fill="#f2f2f2" stroke="#999" stroke-width="1.25"/>
<path d="M710.1 578 V590 M713.6 578 V590" stroke="#999" stroke-width="1.25" fill="none"/>
<rect x="89.5" y="606.8" width="643.8" height="21.2" fill="#f2f2f2" stroke="#ccc" stroke-width="1.25"/>
<rect x="110.6" y="606.8" width="601.4" height="21.2" fill="#bfc8d1" stroke="#bfc8d1" stroke-width="1"/>
<path d="M406 612.8 V622.3 M411 612.8 V622.3 M416 612.8 V622.3" stroke="#808080" stroke-width="1.7" fill="none"/>
<rect x="89.5" y="606.8" width="21.2" height="21.2" fill="#e9e9e9" stroke="#bbb" stroke-width="1.25"/>
<rect x="712.0" y="606.8" width="21.2" height="21.2" fill="#e9e9e9" stroke="#bbb" stroke-width="1.25"/>
<path d="M97.3 618.3 L102.3 614 V622.6 Z" fill="#444"/>
<path d="M725.3 618.3 L720.3 614 V622.6 Z" fill="#444"/>
</svg>
</body>
</html>
